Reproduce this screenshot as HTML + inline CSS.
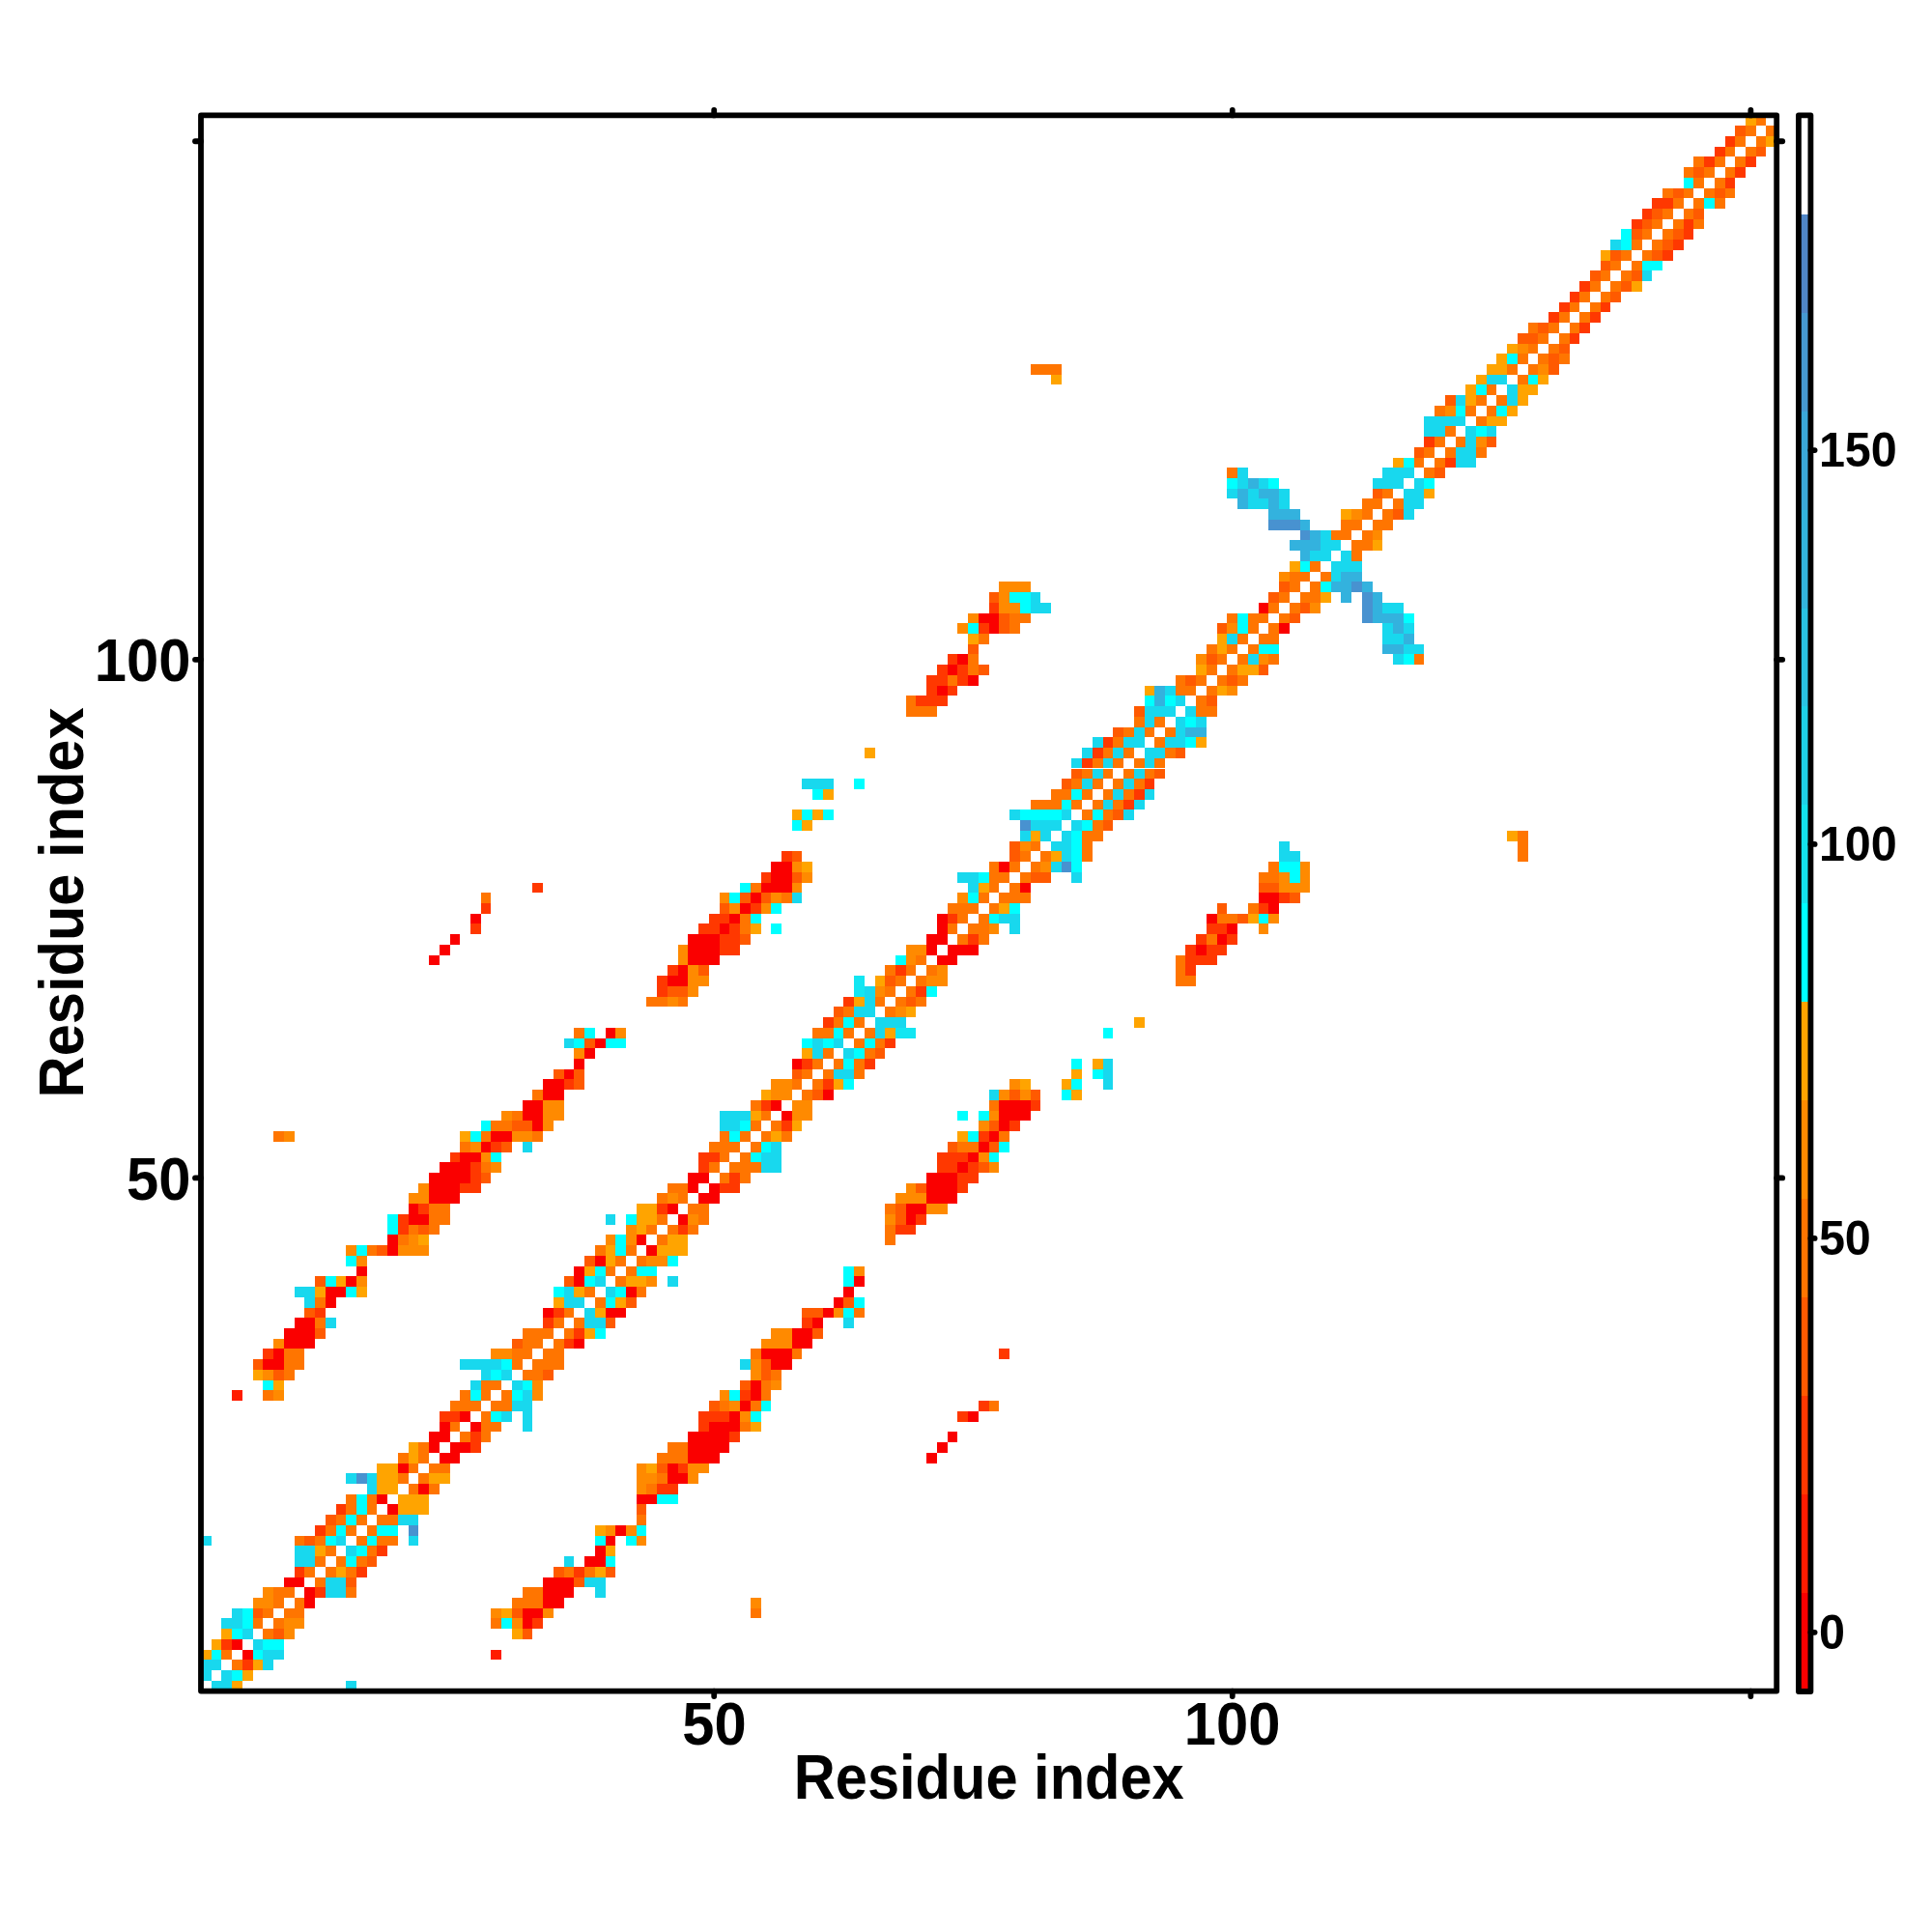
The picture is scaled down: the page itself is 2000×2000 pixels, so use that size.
<!DOCTYPE html>
<html><head><meta charset="utf-8"><style>
html,body{margin:0;padding:0;background:#fff;width:2000px;height:2000px;overflow:hidden}
svg{display:block}
</style></head><body>
<svg width="2000" height="2000" viewBox="0 0 2000 2000">
<rect x="0" y="0" width="2000" height="2000" fill="#fff"/>
<g shape-rendering="crispEdges">
<rect x="218.73" y="1739.87" width="21.46" height="10.73" fill="#18d8ee"/>
<rect x="240.19" y="1739.87" width="10.73" height="10.73" fill="#ffa400"/>
<rect x="358.24" y="1739.87" width="10.73" height="10.73" fill="#18d8ee"/>
<rect x="208.00" y="1729.14" width="10.73" height="10.73" fill="#18d8ee"/>
<rect x="229.46" y="1729.14" width="10.73" height="10.73" fill="#18d8ee"/>
<rect x="240.19" y="1729.14" width="10.73" height="10.73" fill="#00ffff"/>
<rect x="250.93" y="1729.14" width="10.73" height="10.73" fill="#ffa400"/>
<rect x="208.00" y="1718.41" width="21.46" height="10.73" fill="#18d8ee"/>
<rect x="240.19" y="1718.41" width="10.73" height="10.73" fill="#ff7500"/>
<rect x="250.93" y="1718.41" width="10.73" height="10.73" fill="#ff3800"/>
<rect x="261.66" y="1718.41" width="10.73" height="10.73" fill="#ffa400"/>
<rect x="272.39" y="1718.41" width="10.73" height="10.73" fill="#18d8ee"/>
<rect x="208.00" y="1707.67" width="10.73" height="10.73" fill="#ffa400"/>
<rect x="218.73" y="1707.67" width="10.73" height="10.73" fill="#00ffff"/>
<rect x="229.46" y="1707.67" width="10.73" height="10.73" fill="#ff7500"/>
<rect x="250.93" y="1707.67" width="10.73" height="10.73" fill="#fa0000"/>
<rect x="261.66" y="1707.67" width="10.73" height="10.73" fill="#00ffff"/>
<rect x="272.39" y="1707.67" width="21.46" height="10.73" fill="#18d8ee"/>
<rect x="508.48" y="1707.67" width="10.73" height="10.73" fill="#ff1c00"/>
<rect x="218.73" y="1696.94" width="10.73" height="10.73" fill="#ffa400"/>
<rect x="229.46" y="1696.94" width="10.73" height="10.73" fill="#ff3800"/>
<rect x="240.19" y="1696.94" width="10.73" height="10.73" fill="#fa0000"/>
<rect x="261.66" y="1696.94" width="10.73" height="10.73" fill="#18d8ee"/>
<rect x="272.39" y="1696.94" width="21.46" height="10.73" fill="#00ffff"/>
<rect x="229.46" y="1686.21" width="10.73" height="10.73" fill="#ffa400"/>
<rect x="240.19" y="1686.21" width="10.73" height="10.73" fill="#00ffff"/>
<rect x="250.93" y="1686.21" width="10.73" height="10.73" fill="#18d8ee"/>
<rect x="272.39" y="1686.21" width="10.73" height="10.73" fill="#ff7500"/>
<rect x="283.12" y="1686.21" width="10.73" height="10.73" fill="#ff5a00"/>
<rect x="293.85" y="1686.21" width="10.73" height="10.73" fill="#ff8a00"/>
<rect x="529.94" y="1686.21" width="10.73" height="10.73" fill="#ffa400"/>
<rect x="540.68" y="1686.21" width="10.73" height="10.73" fill="#ff5a00"/>
<rect x="229.46" y="1675.48" width="21.46" height="10.73" fill="#18d8ee"/>
<rect x="250.93" y="1675.48" width="10.73" height="10.73" fill="#00ffff"/>
<rect x="261.66" y="1675.48" width="10.73" height="10.73" fill="#ff7500"/>
<rect x="283.12" y="1675.48" width="10.73" height="10.73" fill="#ff7500"/>
<rect x="293.85" y="1675.48" width="21.46" height="10.73" fill="#ff8a00"/>
<rect x="508.48" y="1675.48" width="10.73" height="10.73" fill="#ff7500"/>
<rect x="519.21" y="1675.48" width="10.73" height="10.73" fill="#00ffff"/>
<rect x="529.94" y="1675.48" width="10.73" height="10.73" fill="#ff8a00"/>
<rect x="540.68" y="1675.48" width="10.73" height="10.73" fill="#fa0000"/>
<rect x="551.41" y="1675.48" width="10.73" height="10.73" fill="#ff3800"/>
<rect x="240.19" y="1664.75" width="10.73" height="10.73" fill="#18d8ee"/>
<rect x="250.93" y="1664.75" width="10.73" height="10.73" fill="#00ffff"/>
<rect x="261.66" y="1664.75" width="10.73" height="10.73" fill="#ff5a00"/>
<rect x="272.39" y="1664.75" width="10.73" height="10.73" fill="#ff7500"/>
<rect x="293.85" y="1664.75" width="21.46" height="10.73" fill="#ff7500"/>
<rect x="508.48" y="1664.75" width="10.73" height="10.73" fill="#ff8a00"/>
<rect x="519.21" y="1664.75" width="10.73" height="10.73" fill="#ffa400"/>
<rect x="529.94" y="1664.75" width="10.73" height="10.73" fill="#ff5a00"/>
<rect x="540.68" y="1664.75" width="21.46" height="10.73" fill="#fa0000"/>
<rect x="562.14" y="1664.75" width="10.73" height="10.73" fill="#ff8a00"/>
<rect x="776.77" y="1664.75" width="10.73" height="10.73" fill="#ff7500"/>
<rect x="261.66" y="1654.02" width="21.46" height="10.73" fill="#ff8a00"/>
<rect x="283.12" y="1654.02" width="10.73" height="10.73" fill="#ff7500"/>
<rect x="304.58" y="1654.02" width="10.73" height="10.73" fill="#ff7500"/>
<rect x="315.31" y="1654.02" width="10.73" height="10.73" fill="#fa0000"/>
<rect x="529.94" y="1654.02" width="32.19" height="10.73" fill="#ff7500"/>
<rect x="562.14" y="1654.02" width="21.46" height="10.73" fill="#fa0000"/>
<rect x="776.77" y="1654.02" width="10.73" height="10.73" fill="#ff8a00"/>
<rect x="272.39" y="1643.28" width="10.73" height="10.73" fill="#ff8a00"/>
<rect x="283.12" y="1643.28" width="21.46" height="10.73" fill="#ff7500"/>
<rect x="315.31" y="1643.28" width="10.73" height="10.73" fill="#fa0000"/>
<rect x="326.05" y="1643.28" width="10.73" height="10.73" fill="#ff3800"/>
<rect x="336.78" y="1643.28" width="21.46" height="10.73" fill="#18d8ee"/>
<rect x="358.24" y="1643.28" width="10.73" height="10.73" fill="#ff7500"/>
<rect x="540.68" y="1643.28" width="21.46" height="10.73" fill="#ff7500"/>
<rect x="562.14" y="1643.28" width="32.19" height="10.73" fill="#fa0000"/>
<rect x="615.80" y="1643.28" width="10.73" height="10.73" fill="#18d8ee"/>
<rect x="293.85" y="1632.55" width="21.46" height="10.73" fill="#fa0000"/>
<rect x="326.05" y="1632.55" width="10.73" height="10.73" fill="#ff7500"/>
<rect x="336.78" y="1632.55" width="21.46" height="10.73" fill="#18d8ee"/>
<rect x="358.24" y="1632.55" width="10.73" height="10.73" fill="#ff5a00"/>
<rect x="562.14" y="1632.55" width="32.19" height="10.73" fill="#fa0000"/>
<rect x="594.33" y="1632.55" width="10.73" height="10.73" fill="#ff5a00"/>
<rect x="605.07" y="1632.55" width="21.46" height="10.73" fill="#18d8ee"/>
<rect x="304.58" y="1621.82" width="10.73" height="10.73" fill="#ff3800"/>
<rect x="315.31" y="1621.82" width="10.73" height="10.73" fill="#ff7500"/>
<rect x="336.78" y="1621.82" width="10.73" height="10.73" fill="#ff7500"/>
<rect x="347.51" y="1621.82" width="10.73" height="10.73" fill="#ffa400"/>
<rect x="358.24" y="1621.82" width="10.73" height="10.73" fill="#ff7500"/>
<rect x="368.97" y="1621.82" width="10.73" height="10.73" fill="#ff3800"/>
<rect x="572.87" y="1621.82" width="10.73" height="10.73" fill="#ff5a00"/>
<rect x="583.60" y="1621.82" width="10.73" height="10.73" fill="#ff7500"/>
<rect x="594.33" y="1621.82" width="10.73" height="10.73" fill="#ff3800"/>
<rect x="605.07" y="1621.82" width="10.73" height="10.73" fill="#ff7500"/>
<rect x="615.80" y="1621.82" width="10.73" height="10.73" fill="#ffa400"/>
<rect x="626.53" y="1621.82" width="10.73" height="10.73" fill="#ff5a00"/>
<rect x="304.58" y="1611.09" width="21.46" height="10.73" fill="#18d8ee"/>
<rect x="326.05" y="1611.09" width="10.73" height="10.73" fill="#ff7500"/>
<rect x="347.51" y="1611.09" width="10.73" height="10.73" fill="#ff7500"/>
<rect x="358.24" y="1611.09" width="10.73" height="10.73" fill="#00ffff"/>
<rect x="368.97" y="1611.09" width="10.73" height="10.73" fill="#ff7500"/>
<rect x="379.70" y="1611.09" width="10.73" height="10.73" fill="#ff5a00"/>
<rect x="583.60" y="1611.09" width="10.73" height="10.73" fill="#18d8ee"/>
<rect x="605.07" y="1611.09" width="21.46" height="10.73" fill="#fa0000"/>
<rect x="626.53" y="1611.09" width="10.73" height="10.73" fill="#00ffff"/>
<rect x="304.58" y="1600.36" width="21.46" height="10.73" fill="#18d8ee"/>
<rect x="326.05" y="1600.36" width="10.73" height="10.73" fill="#ffa400"/>
<rect x="336.78" y="1600.36" width="10.73" height="10.73" fill="#ff7500"/>
<rect x="358.24" y="1600.36" width="10.73" height="10.73" fill="#18d8ee"/>
<rect x="368.97" y="1600.36" width="10.73" height="10.73" fill="#00ffff"/>
<rect x="379.70" y="1600.36" width="10.73" height="10.73" fill="#ff7500"/>
<rect x="390.44" y="1600.36" width="10.73" height="10.73" fill="#ff3800"/>
<rect x="615.80" y="1600.36" width="10.73" height="10.73" fill="#fa0000"/>
<rect x="626.53" y="1600.36" width="10.73" height="10.73" fill="#ffa400"/>
<rect x="208.00" y="1589.63" width="10.73" height="10.73" fill="#18d8ee"/>
<rect x="304.58" y="1589.63" width="10.73" height="10.73" fill="#ff7500"/>
<rect x="315.31" y="1589.63" width="10.73" height="10.73" fill="#ff5a00"/>
<rect x="326.05" y="1589.63" width="10.73" height="10.73" fill="#ff7500"/>
<rect x="336.78" y="1589.63" width="10.73" height="10.73" fill="#00ffff"/>
<rect x="347.51" y="1589.63" width="10.73" height="10.73" fill="#18d8ee"/>
<rect x="368.97" y="1589.63" width="10.73" height="10.73" fill="#ff7500"/>
<rect x="379.70" y="1589.63" width="10.73" height="10.73" fill="#00ffff"/>
<rect x="390.44" y="1589.63" width="21.46" height="10.73" fill="#ff7500"/>
<rect x="422.63" y="1589.63" width="10.73" height="10.73" fill="#18d8ee"/>
<rect x="615.80" y="1589.63" width="10.73" height="10.73" fill="#00ffff"/>
<rect x="626.53" y="1589.63" width="10.73" height="10.73" fill="#fa0000"/>
<rect x="647.99" y="1589.63" width="10.73" height="10.73" fill="#00ffff"/>
<rect x="658.72" y="1589.63" width="10.73" height="10.73" fill="#ff8a00"/>
<rect x="326.05" y="1578.90" width="10.73" height="10.73" fill="#ff3800"/>
<rect x="336.78" y="1578.90" width="10.73" height="10.73" fill="#ff7500"/>
<rect x="347.51" y="1578.90" width="10.73" height="10.73" fill="#00ffff"/>
<rect x="358.24" y="1578.90" width="10.73" height="10.73" fill="#ff7500"/>
<rect x="379.70" y="1578.90" width="10.73" height="10.73" fill="#ff7500"/>
<rect x="390.44" y="1578.90" width="21.46" height="10.73" fill="#00ffff"/>
<rect x="422.63" y="1578.90" width="10.73" height="10.73" fill="#4892d0"/>
<rect x="615.80" y="1578.90" width="10.73" height="10.73" fill="#ffa400"/>
<rect x="626.53" y="1578.90" width="10.73" height="10.73" fill="#ff8a00"/>
<rect x="637.26" y="1578.90" width="10.73" height="10.73" fill="#fa0000"/>
<rect x="647.99" y="1578.90" width="10.73" height="10.73" fill="#ff8a00"/>
<rect x="658.72" y="1578.90" width="10.73" height="10.73" fill="#00ffff"/>
<rect x="336.78" y="1568.16" width="10.73" height="10.73" fill="#ff5a00"/>
<rect x="347.51" y="1568.16" width="10.73" height="10.73" fill="#ff7500"/>
<rect x="358.24" y="1568.16" width="10.73" height="10.73" fill="#00ffff"/>
<rect x="368.97" y="1568.16" width="10.73" height="10.73" fill="#ff7500"/>
<rect x="390.44" y="1568.16" width="21.46" height="10.73" fill="#ff7500"/>
<rect x="411.90" y="1568.16" width="21.46" height="10.73" fill="#18d8ee"/>
<rect x="658.72" y="1568.16" width="10.73" height="10.73" fill="#ff7500"/>
<rect x="347.51" y="1557.43" width="10.73" height="10.73" fill="#ff3800"/>
<rect x="358.24" y="1557.43" width="10.73" height="10.73" fill="#ff7500"/>
<rect x="368.97" y="1557.43" width="10.73" height="10.73" fill="#00ffff"/>
<rect x="379.70" y="1557.43" width="10.73" height="10.73" fill="#ff7500"/>
<rect x="401.17" y="1557.43" width="10.73" height="10.73" fill="#fa0000"/>
<rect x="411.90" y="1557.43" width="32.19" height="10.73" fill="#ffa400"/>
<rect x="658.72" y="1557.43" width="10.73" height="10.73" fill="#ff5a00"/>
<rect x="358.24" y="1546.70" width="10.73" height="10.73" fill="#ff7500"/>
<rect x="368.97" y="1546.70" width="10.73" height="10.73" fill="#00ffff"/>
<rect x="379.70" y="1546.70" width="10.73" height="10.73" fill="#ff7500"/>
<rect x="390.44" y="1546.70" width="10.73" height="10.73" fill="#fa0000"/>
<rect x="411.90" y="1546.70" width="32.19" height="10.73" fill="#ffa400"/>
<rect x="658.72" y="1546.70" width="21.46" height="10.73" fill="#fa0000"/>
<rect x="680.19" y="1546.70" width="21.46" height="10.73" fill="#00ffff"/>
<rect x="379.70" y="1535.97" width="10.73" height="10.73" fill="#18d8ee"/>
<rect x="390.44" y="1535.97" width="21.46" height="10.73" fill="#ffa400"/>
<rect x="422.63" y="1535.97" width="10.73" height="10.73" fill="#ff7500"/>
<rect x="433.36" y="1535.97" width="10.73" height="10.73" fill="#fa0000"/>
<rect x="444.09" y="1535.97" width="10.73" height="10.73" fill="#ff7500"/>
<rect x="658.72" y="1535.97" width="10.73" height="10.73" fill="#ff8a00"/>
<rect x="669.45" y="1535.97" width="10.73" height="10.73" fill="#ff7500"/>
<rect x="680.19" y="1535.97" width="21.46" height="10.73" fill="#ff3800"/>
<rect x="358.24" y="1525.24" width="10.73" height="10.73" fill="#18d8ee"/>
<rect x="368.97" y="1525.24" width="10.73" height="10.73" fill="#4892d0"/>
<rect x="379.70" y="1525.24" width="10.73" height="10.73" fill="#18d8ee"/>
<rect x="390.44" y="1525.24" width="21.46" height="10.73" fill="#ffa400"/>
<rect x="411.90" y="1525.24" width="10.73" height="10.73" fill="#ff7500"/>
<rect x="433.36" y="1525.24" width="10.73" height="10.73" fill="#ff7500"/>
<rect x="444.09" y="1525.24" width="21.46" height="10.73" fill="#ffa400"/>
<rect x="658.72" y="1525.24" width="21.46" height="10.73" fill="#ff8a00"/>
<rect x="680.19" y="1525.24" width="10.73" height="10.73" fill="#ff7500"/>
<rect x="690.92" y="1525.24" width="21.46" height="10.73" fill="#fa0000"/>
<rect x="712.38" y="1525.24" width="10.73" height="10.73" fill="#ff8a00"/>
<rect x="390.44" y="1514.51" width="21.46" height="10.73" fill="#ffa400"/>
<rect x="411.90" y="1514.51" width="10.73" height="10.73" fill="#fa0000"/>
<rect x="422.63" y="1514.51" width="10.73" height="10.73" fill="#ff7500"/>
<rect x="444.09" y="1514.51" width="21.46" height="10.73" fill="#ff7500"/>
<rect x="658.72" y="1514.51" width="10.73" height="10.73" fill="#ff8a00"/>
<rect x="669.45" y="1514.51" width="10.73" height="10.73" fill="#ffa400"/>
<rect x="680.19" y="1514.51" width="10.73" height="10.73" fill="#ff5a00"/>
<rect x="690.92" y="1514.51" width="10.73" height="10.73" fill="#fa0000"/>
<rect x="701.65" y="1514.51" width="10.73" height="10.73" fill="#ff3800"/>
<rect x="712.38" y="1514.51" width="21.46" height="10.73" fill="#ff8a00"/>
<rect x="411.90" y="1503.78" width="10.73" height="10.73" fill="#ff7500"/>
<rect x="422.63" y="1503.78" width="10.73" height="10.73" fill="#ffa400"/>
<rect x="433.36" y="1503.78" width="10.73" height="10.73" fill="#ff7500"/>
<rect x="454.82" y="1503.78" width="21.46" height="10.73" fill="#fa0000"/>
<rect x="680.19" y="1503.78" width="32.19" height="10.73" fill="#ff7500"/>
<rect x="712.38" y="1503.78" width="32.19" height="10.73" fill="#fa0000"/>
<rect x="959.21" y="1503.78" width="10.73" height="10.73" fill="#fa0000"/>
<rect x="422.63" y="1493.04" width="10.73" height="10.73" fill="#ffa400"/>
<rect x="433.36" y="1493.04" width="10.73" height="10.73" fill="#ff7500"/>
<rect x="444.09" y="1493.04" width="10.73" height="10.73" fill="#fa0000"/>
<rect x="465.56" y="1493.04" width="21.46" height="10.73" fill="#fa0000"/>
<rect x="487.02" y="1493.04" width="10.73" height="10.73" fill="#ff3800"/>
<rect x="690.92" y="1493.04" width="21.46" height="10.73" fill="#ff7500"/>
<rect x="712.38" y="1493.04" width="42.93" height="10.73" fill="#fa0000"/>
<rect x="969.94" y="1493.04" width="10.73" height="10.73" fill="#fa0000"/>
<rect x="444.09" y="1482.31" width="21.46" height="10.73" fill="#fa0000"/>
<rect x="476.29" y="1482.31" width="10.73" height="10.73" fill="#ff7500"/>
<rect x="487.02" y="1482.31" width="10.73" height="10.73" fill="#ff3800"/>
<rect x="497.75" y="1482.31" width="10.73" height="10.73" fill="#ff7500"/>
<rect x="712.38" y="1482.31" width="42.93" height="10.73" fill="#fa0000"/>
<rect x="755.31" y="1482.31" width="10.73" height="10.73" fill="#ff3800"/>
<rect x="980.67" y="1482.31" width="10.73" height="10.73" fill="#fa0000"/>
<rect x="454.82" y="1471.58" width="10.73" height="10.73" fill="#fa0000"/>
<rect x="465.56" y="1471.58" width="10.73" height="10.73" fill="#ff7500"/>
<rect x="487.02" y="1471.58" width="10.73" height="10.73" fill="#fa0000"/>
<rect x="497.75" y="1471.58" width="21.46" height="10.73" fill="#ff7500"/>
<rect x="540.68" y="1471.58" width="10.73" height="10.73" fill="#18d8ee"/>
<rect x="723.11" y="1471.58" width="10.73" height="10.73" fill="#ff3800"/>
<rect x="733.84" y="1471.58" width="32.19" height="10.73" fill="#fa0000"/>
<rect x="766.04" y="1471.58" width="10.73" height="10.73" fill="#ff7500"/>
<rect x="776.77" y="1471.58" width="10.73" height="10.73" fill="#ffa400"/>
<rect x="454.82" y="1460.85" width="21.46" height="10.73" fill="#ff3800"/>
<rect x="476.29" y="1460.85" width="10.73" height="10.73" fill="#fa0000"/>
<rect x="497.75" y="1460.85" width="10.73" height="10.73" fill="#ff7500"/>
<rect x="508.48" y="1460.85" width="10.73" height="10.73" fill="#00ffff"/>
<rect x="519.21" y="1460.85" width="10.73" height="10.73" fill="#18d8ee"/>
<rect x="540.68" y="1460.85" width="10.73" height="10.73" fill="#18d8ee"/>
<rect x="723.11" y="1460.85" width="32.19" height="10.73" fill="#ff3800"/>
<rect x="755.31" y="1460.85" width="10.73" height="10.73" fill="#fa0000"/>
<rect x="766.04" y="1460.85" width="10.73" height="10.73" fill="#ff8a00"/>
<rect x="776.77" y="1460.85" width="10.73" height="10.73" fill="#00ffff"/>
<rect x="991.40" y="1460.85" width="10.73" height="10.73" fill="#ff3800"/>
<rect x="1002.13" y="1460.85" width="10.73" height="10.73" fill="#fa0000"/>
<rect x="465.56" y="1450.12" width="32.19" height="10.73" fill="#ff7500"/>
<rect x="508.48" y="1450.12" width="21.46" height="10.73" fill="#ff7500"/>
<rect x="529.94" y="1450.12" width="21.46" height="10.73" fill="#18d8ee"/>
<rect x="733.84" y="1450.12" width="10.73" height="10.73" fill="#ff5a00"/>
<rect x="744.58" y="1450.12" width="10.73" height="10.73" fill="#ff7500"/>
<rect x="755.31" y="1450.12" width="10.73" height="10.73" fill="#ff8a00"/>
<rect x="766.04" y="1450.12" width="10.73" height="10.73" fill="#fa0000"/>
<rect x="776.77" y="1450.12" width="10.73" height="10.73" fill="#ff7500"/>
<rect x="787.50" y="1450.12" width="10.73" height="10.73" fill="#00ffff"/>
<rect x="1012.86" y="1450.12" width="10.73" height="10.73" fill="#ff3800"/>
<rect x="1023.59" y="1450.12" width="10.73" height="10.73" fill="#ff7500"/>
<rect x="240.19" y="1439.39" width="10.73" height="10.73" fill="#ff1c00"/>
<rect x="272.39" y="1439.39" width="10.73" height="10.73" fill="#ff7500"/>
<rect x="283.12" y="1439.39" width="10.73" height="10.73" fill="#ff8a00"/>
<rect x="476.29" y="1439.39" width="10.73" height="10.73" fill="#ff7500"/>
<rect x="487.02" y="1439.39" width="10.73" height="10.73" fill="#00ffff"/>
<rect x="497.75" y="1439.39" width="10.73" height="10.73" fill="#ff7500"/>
<rect x="519.21" y="1439.39" width="10.73" height="10.73" fill="#ff7500"/>
<rect x="529.94" y="1439.39" width="10.73" height="10.73" fill="#00ffff"/>
<rect x="540.68" y="1439.39" width="10.73" height="10.73" fill="#18d8ee"/>
<rect x="551.41" y="1439.39" width="10.73" height="10.73" fill="#ff8a00"/>
<rect x="744.58" y="1439.39" width="10.73" height="10.73" fill="#ff8a00"/>
<rect x="755.31" y="1439.39" width="10.73" height="10.73" fill="#00ffff"/>
<rect x="766.04" y="1439.39" width="10.73" height="10.73" fill="#ff3800"/>
<rect x="776.77" y="1439.39" width="10.73" height="10.73" fill="#fa0000"/>
<rect x="787.50" y="1439.39" width="10.73" height="10.73" fill="#ff7500"/>
<rect x="272.39" y="1428.65" width="10.73" height="10.73" fill="#00ffff"/>
<rect x="283.12" y="1428.65" width="10.73" height="10.73" fill="#ffa400"/>
<rect x="487.02" y="1428.65" width="10.73" height="10.73" fill="#18d8ee"/>
<rect x="497.75" y="1428.65" width="21.46" height="10.73" fill="#ff7500"/>
<rect x="529.94" y="1428.65" width="10.73" height="10.73" fill="#18d8ee"/>
<rect x="540.68" y="1428.65" width="10.73" height="10.73" fill="#00ffff"/>
<rect x="551.41" y="1428.65" width="10.73" height="10.73" fill="#ff8a00"/>
<rect x="766.04" y="1428.65" width="10.73" height="10.73" fill="#ff5a00"/>
<rect x="776.77" y="1428.65" width="10.73" height="10.73" fill="#fa0000"/>
<rect x="787.50" y="1428.65" width="10.73" height="10.73" fill="#ff7500"/>
<rect x="798.23" y="1428.65" width="10.73" height="10.73" fill="#ff8a00"/>
<rect x="261.66" y="1417.92" width="10.73" height="10.73" fill="#ffa400"/>
<rect x="272.39" y="1417.92" width="10.73" height="10.73" fill="#ff8a00"/>
<rect x="283.12" y="1417.92" width="10.73" height="10.73" fill="#ff5a00"/>
<rect x="293.85" y="1417.92" width="10.73" height="10.73" fill="#ff7500"/>
<rect x="497.75" y="1417.92" width="10.73" height="10.73" fill="#18d8ee"/>
<rect x="508.48" y="1417.92" width="10.73" height="10.73" fill="#00ffff"/>
<rect x="519.21" y="1417.92" width="10.73" height="10.73" fill="#18d8ee"/>
<rect x="540.68" y="1417.92" width="21.46" height="10.73" fill="#ff7500"/>
<rect x="562.14" y="1417.92" width="10.73" height="10.73" fill="#ff5a00"/>
<rect x="776.77" y="1417.92" width="10.73" height="10.73" fill="#ff8a00"/>
<rect x="787.50" y="1417.92" width="10.73" height="10.73" fill="#ff5a00"/>
<rect x="798.23" y="1417.92" width="10.73" height="10.73" fill="#ff7500"/>
<rect x="261.66" y="1407.19" width="10.73" height="10.73" fill="#ff5a00"/>
<rect x="272.39" y="1407.19" width="21.46" height="10.73" fill="#fa0000"/>
<rect x="293.85" y="1407.19" width="21.46" height="10.73" fill="#ff7500"/>
<rect x="476.29" y="1407.19" width="42.93" height="10.73" fill="#18d8ee"/>
<rect x="519.21" y="1407.19" width="10.73" height="10.73" fill="#00ffff"/>
<rect x="529.94" y="1407.19" width="10.73" height="10.73" fill="#ff7500"/>
<rect x="551.41" y="1407.19" width="32.19" height="10.73" fill="#ff7500"/>
<rect x="766.04" y="1407.19" width="10.73" height="10.73" fill="#18d8ee"/>
<rect x="776.77" y="1407.19" width="10.73" height="10.73" fill="#ff8a00"/>
<rect x="787.50" y="1407.19" width="10.73" height="10.73" fill="#ff5a00"/>
<rect x="798.23" y="1407.19" width="21.46" height="10.73" fill="#fa0000"/>
<rect x="272.39" y="1396.46" width="10.73" height="10.73" fill="#ff3800"/>
<rect x="283.12" y="1396.46" width="10.73" height="10.73" fill="#fa0000"/>
<rect x="293.85" y="1396.46" width="21.46" height="10.73" fill="#ff7500"/>
<rect x="508.48" y="1396.46" width="21.46" height="10.73" fill="#ff8a00"/>
<rect x="529.94" y="1396.46" width="21.46" height="10.73" fill="#ff7500"/>
<rect x="562.14" y="1396.46" width="21.46" height="10.73" fill="#ff7500"/>
<rect x="776.77" y="1396.46" width="10.73" height="10.73" fill="#ff7500"/>
<rect x="787.50" y="1396.46" width="32.19" height="10.73" fill="#fa0000"/>
<rect x="819.70" y="1396.46" width="10.73" height="10.73" fill="#ff7500"/>
<rect x="1034.33" y="1396.46" width="10.73" height="10.73" fill="#ff3800"/>
<rect x="283.12" y="1385.73" width="10.73" height="10.73" fill="#ff8a00"/>
<rect x="293.85" y="1385.73" width="32.19" height="10.73" fill="#fa0000"/>
<rect x="529.94" y="1385.73" width="10.73" height="10.73" fill="#ff5a00"/>
<rect x="540.68" y="1385.73" width="21.46" height="10.73" fill="#ff7500"/>
<rect x="572.87" y="1385.73" width="10.73" height="10.73" fill="#ff7500"/>
<rect x="583.60" y="1385.73" width="10.73" height="10.73" fill="#ff3800"/>
<rect x="594.33" y="1385.73" width="10.73" height="10.73" fill="#fa0000"/>
<rect x="787.50" y="1385.73" width="32.19" height="10.73" fill="#ff8a00"/>
<rect x="819.70" y="1385.73" width="21.46" height="10.73" fill="#fa0000"/>
<rect x="293.85" y="1375.00" width="32.19" height="10.73" fill="#fa0000"/>
<rect x="326.05" y="1375.00" width="10.73" height="10.73" fill="#ff5a00"/>
<rect x="540.68" y="1375.00" width="32.19" height="10.73" fill="#ff7500"/>
<rect x="583.60" y="1375.00" width="10.73" height="10.73" fill="#ff7500"/>
<rect x="594.33" y="1375.00" width="10.73" height="10.73" fill="#ff3800"/>
<rect x="605.07" y="1375.00" width="10.73" height="10.73" fill="#ffa400"/>
<rect x="615.80" y="1375.00" width="10.73" height="10.73" fill="#00ffff"/>
<rect x="798.23" y="1375.00" width="21.46" height="10.73" fill="#ff8a00"/>
<rect x="819.70" y="1375.00" width="21.46" height="10.73" fill="#fa0000"/>
<rect x="841.16" y="1375.00" width="10.73" height="10.73" fill="#ff5a00"/>
<rect x="304.58" y="1364.27" width="21.46" height="10.73" fill="#fa0000"/>
<rect x="326.05" y="1364.27" width="10.73" height="10.73" fill="#ff7500"/>
<rect x="336.78" y="1364.27" width="10.73" height="10.73" fill="#18d8ee"/>
<rect x="562.14" y="1364.27" width="10.73" height="10.73" fill="#ff3800"/>
<rect x="572.87" y="1364.27" width="10.73" height="10.73" fill="#ff7500"/>
<rect x="594.33" y="1364.27" width="10.73" height="10.73" fill="#ff7500"/>
<rect x="605.07" y="1364.27" width="21.46" height="10.73" fill="#18d8ee"/>
<rect x="626.53" y="1364.27" width="10.73" height="10.73" fill="#ff5a00"/>
<rect x="830.43" y="1364.27" width="10.73" height="10.73" fill="#ff3800"/>
<rect x="841.16" y="1364.27" width="10.73" height="10.73" fill="#fa0000"/>
<rect x="873.35" y="1364.27" width="10.73" height="10.73" fill="#18d8ee"/>
<rect x="315.31" y="1353.53" width="10.73" height="10.73" fill="#ff5a00"/>
<rect x="326.05" y="1353.53" width="10.73" height="10.73" fill="#ff3800"/>
<rect x="562.14" y="1353.53" width="10.73" height="10.73" fill="#fa0000"/>
<rect x="572.87" y="1353.53" width="10.73" height="10.73" fill="#ff3800"/>
<rect x="583.60" y="1353.53" width="10.73" height="10.73" fill="#ff7500"/>
<rect x="605.07" y="1353.53" width="10.73" height="10.73" fill="#18d8ee"/>
<rect x="615.80" y="1353.53" width="10.73" height="10.73" fill="#ffa400"/>
<rect x="626.53" y="1353.53" width="21.46" height="10.73" fill="#fa0000"/>
<rect x="830.43" y="1353.53" width="21.46" height="10.73" fill="#ff5a00"/>
<rect x="851.89" y="1353.53" width="10.73" height="10.73" fill="#fa0000"/>
<rect x="862.62" y="1353.53" width="10.73" height="10.73" fill="#ff8a00"/>
<rect x="873.35" y="1353.53" width="10.73" height="10.73" fill="#00ffff"/>
<rect x="884.08" y="1353.53" width="10.73" height="10.73" fill="#ff7500"/>
<rect x="315.31" y="1342.80" width="10.73" height="10.73" fill="#18d8ee"/>
<rect x="326.05" y="1342.80" width="10.73" height="10.73" fill="#ff7500"/>
<rect x="336.78" y="1342.80" width="10.73" height="10.73" fill="#fa0000"/>
<rect x="572.87" y="1342.80" width="10.73" height="10.73" fill="#ffa400"/>
<rect x="583.60" y="1342.80" width="21.46" height="10.73" fill="#18d8ee"/>
<rect x="615.80" y="1342.80" width="10.73" height="10.73" fill="#ff7500"/>
<rect x="626.53" y="1342.80" width="10.73" height="10.73" fill="#00ffff"/>
<rect x="637.26" y="1342.80" width="10.73" height="10.73" fill="#ffa400"/>
<rect x="647.99" y="1342.80" width="10.73" height="10.73" fill="#ff5a00"/>
<rect x="862.62" y="1342.80" width="10.73" height="10.73" fill="#fa0000"/>
<rect x="873.35" y="1342.80" width="10.73" height="10.73" fill="#ff5a00"/>
<rect x="884.08" y="1342.80" width="10.73" height="10.73" fill="#00ffff"/>
<rect x="304.58" y="1332.07" width="21.46" height="10.73" fill="#18d8ee"/>
<rect x="326.05" y="1332.07" width="10.73" height="10.73" fill="#ffa400"/>
<rect x="336.78" y="1332.07" width="21.46" height="10.73" fill="#fa0000"/>
<rect x="358.24" y="1332.07" width="10.73" height="10.73" fill="#00ffff"/>
<rect x="368.97" y="1332.07" width="10.73" height="10.73" fill="#ffa400"/>
<rect x="572.87" y="1332.07" width="10.73" height="10.73" fill="#00ffff"/>
<rect x="583.60" y="1332.07" width="10.73" height="10.73" fill="#18d8ee"/>
<rect x="594.33" y="1332.07" width="10.73" height="10.73" fill="#ffa400"/>
<rect x="605.07" y="1332.07" width="10.73" height="10.73" fill="#ff7500"/>
<rect x="626.53" y="1332.07" width="10.73" height="10.73" fill="#18d8ee"/>
<rect x="637.26" y="1332.07" width="10.73" height="10.73" fill="#00ffff"/>
<rect x="647.99" y="1332.07" width="10.73" height="10.73" fill="#fa0000"/>
<rect x="658.72" y="1332.07" width="10.73" height="10.73" fill="#ff7500"/>
<rect x="873.35" y="1332.07" width="10.73" height="10.73" fill="#fa0000"/>
<rect x="326.05" y="1321.34" width="10.73" height="10.73" fill="#ff5a00"/>
<rect x="336.78" y="1321.34" width="10.73" height="10.73" fill="#00ffff"/>
<rect x="347.51" y="1321.34" width="10.73" height="10.73" fill="#ffa400"/>
<rect x="358.24" y="1321.34" width="10.73" height="10.73" fill="#fa0000"/>
<rect x="368.97" y="1321.34" width="10.73" height="10.73" fill="#ff8a00"/>
<rect x="583.60" y="1321.34" width="10.73" height="10.73" fill="#ff5a00"/>
<rect x="594.33" y="1321.34" width="10.73" height="10.73" fill="#fa0000"/>
<rect x="605.07" y="1321.34" width="10.73" height="10.73" fill="#00ffff"/>
<rect x="615.80" y="1321.34" width="10.73" height="10.73" fill="#18d8ee"/>
<rect x="637.26" y="1321.34" width="10.73" height="10.73" fill="#ff7500"/>
<rect x="647.99" y="1321.34" width="21.46" height="10.73" fill="#ffa400"/>
<rect x="669.45" y="1321.34" width="10.73" height="10.73" fill="#ff8a00"/>
<rect x="690.92" y="1321.34" width="10.73" height="10.73" fill="#18d8ee"/>
<rect x="873.35" y="1321.34" width="10.73" height="10.73" fill="#00ffff"/>
<rect x="884.08" y="1321.34" width="10.73" height="10.73" fill="#fa0000"/>
<rect x="368.97" y="1310.61" width="10.73" height="10.73" fill="#fa0000"/>
<rect x="594.33" y="1310.61" width="10.73" height="10.73" fill="#fa0000"/>
<rect x="605.07" y="1310.61" width="10.73" height="10.73" fill="#ffa400"/>
<rect x="615.80" y="1310.61" width="10.73" height="10.73" fill="#00ffff"/>
<rect x="626.53" y="1310.61" width="10.73" height="10.73" fill="#ff7500"/>
<rect x="647.99" y="1310.61" width="10.73" height="10.73" fill="#ff7500"/>
<rect x="658.72" y="1310.61" width="21.46" height="10.73" fill="#00ffff"/>
<rect x="873.35" y="1310.61" width="10.73" height="10.73" fill="#00ffff"/>
<rect x="884.08" y="1310.61" width="10.73" height="10.73" fill="#ff8a00"/>
<rect x="358.24" y="1299.88" width="10.73" height="10.73" fill="#00ffff"/>
<rect x="368.97" y="1299.88" width="10.73" height="10.73" fill="#ff8a00"/>
<rect x="605.07" y="1299.88" width="10.73" height="10.73" fill="#ff5a00"/>
<rect x="615.80" y="1299.88" width="10.73" height="10.73" fill="#fa0000"/>
<rect x="626.53" y="1299.88" width="10.73" height="10.73" fill="#ffa400"/>
<rect x="637.26" y="1299.88" width="10.73" height="10.73" fill="#ff7500"/>
<rect x="658.72" y="1299.88" width="10.73" height="10.73" fill="#ff7500"/>
<rect x="669.45" y="1299.88" width="21.46" height="10.73" fill="#ff8a00"/>
<rect x="690.92" y="1299.88" width="10.73" height="10.73" fill="#00ffff"/>
<rect x="358.24" y="1289.15" width="10.73" height="10.73" fill="#ff8a00"/>
<rect x="368.97" y="1289.15" width="10.73" height="10.73" fill="#00ffff"/>
<rect x="379.70" y="1289.15" width="10.73" height="10.73" fill="#ff7500"/>
<rect x="390.44" y="1289.15" width="10.73" height="10.73" fill="#ff5a00"/>
<rect x="401.17" y="1289.15" width="10.73" height="10.73" fill="#fa0000"/>
<rect x="411.90" y="1289.15" width="32.19" height="10.73" fill="#ff8a00"/>
<rect x="615.80" y="1289.15" width="10.73" height="10.73" fill="#ff7500"/>
<rect x="626.53" y="1289.15" width="10.73" height="10.73" fill="#ffa400"/>
<rect x="637.26" y="1289.15" width="10.73" height="10.73" fill="#00ffff"/>
<rect x="647.99" y="1289.15" width="10.73" height="10.73" fill="#ff7500"/>
<rect x="669.45" y="1289.15" width="10.73" height="10.73" fill="#fa0000"/>
<rect x="680.19" y="1289.15" width="32.19" height="10.73" fill="#ffa400"/>
<rect x="401.17" y="1278.41" width="10.73" height="10.73" fill="#fa0000"/>
<rect x="411.90" y="1278.41" width="10.73" height="10.73" fill="#ff7500"/>
<rect x="422.63" y="1278.41" width="10.73" height="10.73" fill="#ff8a00"/>
<rect x="433.36" y="1278.41" width="10.73" height="10.73" fill="#ffa400"/>
<rect x="626.53" y="1278.41" width="10.73" height="10.73" fill="#ff8a00"/>
<rect x="637.26" y="1278.41" width="10.73" height="10.73" fill="#00ffff"/>
<rect x="647.99" y="1278.41" width="10.73" height="10.73" fill="#ff8a00"/>
<rect x="658.72" y="1278.41" width="10.73" height="10.73" fill="#fa0000"/>
<rect x="680.19" y="1278.41" width="10.73" height="10.73" fill="#ff7500"/>
<rect x="690.92" y="1278.41" width="21.46" height="10.73" fill="#ffa400"/>
<rect x="916.28" y="1278.41" width="10.73" height="10.73" fill="#ff7500"/>
<rect x="401.17" y="1267.68" width="10.73" height="10.73" fill="#00ffff"/>
<rect x="411.90" y="1267.68" width="10.73" height="10.73" fill="#ff3800"/>
<rect x="422.63" y="1267.68" width="10.73" height="10.73" fill="#ff7500"/>
<rect x="433.36" y="1267.68" width="10.73" height="10.73" fill="#ff5a00"/>
<rect x="444.09" y="1267.68" width="10.73" height="10.73" fill="#ff7500"/>
<rect x="647.99" y="1267.68" width="10.73" height="10.73" fill="#ff8a00"/>
<rect x="658.72" y="1267.68" width="10.73" height="10.73" fill="#ffa400"/>
<rect x="669.45" y="1267.68" width="10.73" height="10.73" fill="#ff7500"/>
<rect x="690.92" y="1267.68" width="10.73" height="10.73" fill="#ff7500"/>
<rect x="701.65" y="1267.68" width="10.73" height="10.73" fill="#ff3800"/>
<rect x="712.38" y="1267.68" width="10.73" height="10.73" fill="#ff7500"/>
<rect x="916.28" y="1267.68" width="10.73" height="10.73" fill="#ff7500"/>
<rect x="927.01" y="1267.68" width="21.46" height="10.73" fill="#ff3800"/>
<rect x="401.17" y="1256.95" width="10.73" height="10.73" fill="#00ffff"/>
<rect x="411.90" y="1256.95" width="10.73" height="10.73" fill="#ff3800"/>
<rect x="422.63" y="1256.95" width="21.46" height="10.73" fill="#fa0000"/>
<rect x="444.09" y="1256.95" width="21.46" height="10.73" fill="#ff7500"/>
<rect x="626.53" y="1256.95" width="10.73" height="10.73" fill="#18d8ee"/>
<rect x="647.99" y="1256.95" width="10.73" height="10.73" fill="#00ffff"/>
<rect x="658.72" y="1256.95" width="21.46" height="10.73" fill="#ffa400"/>
<rect x="680.19" y="1256.95" width="10.73" height="10.73" fill="#ff7500"/>
<rect x="701.65" y="1256.95" width="10.73" height="10.73" fill="#fa0000"/>
<rect x="712.38" y="1256.95" width="10.73" height="10.73" fill="#ff8a00"/>
<rect x="723.11" y="1256.95" width="10.73" height="10.73" fill="#ff7500"/>
<rect x="916.28" y="1256.95" width="10.73" height="10.73" fill="#ff8a00"/>
<rect x="927.01" y="1256.95" width="10.73" height="10.73" fill="#ff5a00"/>
<rect x="937.74" y="1256.95" width="10.73" height="10.73" fill="#fa0000"/>
<rect x="948.47" y="1256.95" width="10.73" height="10.73" fill="#ff3800"/>
<rect x="422.63" y="1246.22" width="10.73" height="10.73" fill="#fa0000"/>
<rect x="433.36" y="1246.22" width="10.73" height="10.73" fill="#ff3800"/>
<rect x="444.09" y="1246.22" width="21.46" height="10.73" fill="#ff7500"/>
<rect x="658.72" y="1246.22" width="21.46" height="10.73" fill="#ffa400"/>
<rect x="680.19" y="1246.22" width="10.73" height="10.73" fill="#ff3800"/>
<rect x="690.92" y="1246.22" width="10.73" height="10.73" fill="#fa0000"/>
<rect x="712.38" y="1246.22" width="21.46" height="10.73" fill="#ff7500"/>
<rect x="916.28" y="1246.22" width="10.73" height="10.73" fill="#ff7500"/>
<rect x="927.01" y="1246.22" width="10.73" height="10.73" fill="#ff5a00"/>
<rect x="937.74" y="1246.22" width="21.46" height="10.73" fill="#fa0000"/>
<rect x="959.21" y="1246.22" width="21.46" height="10.73" fill="#ff8a00"/>
<rect x="422.63" y="1235.49" width="21.46" height="10.73" fill="#ff8a00"/>
<rect x="444.09" y="1235.49" width="32.19" height="10.73" fill="#fa0000"/>
<rect x="680.19" y="1235.49" width="10.73" height="10.73" fill="#ff7500"/>
<rect x="690.92" y="1235.49" width="10.73" height="10.73" fill="#ff8a00"/>
<rect x="701.65" y="1235.49" width="10.73" height="10.73" fill="#ff7500"/>
<rect x="723.11" y="1235.49" width="21.46" height="10.73" fill="#fa0000"/>
<rect x="927.01" y="1235.49" width="32.19" height="10.73" fill="#ff8a00"/>
<rect x="959.21" y="1235.49" width="32.19" height="10.73" fill="#fa0000"/>
<rect x="433.36" y="1224.76" width="10.73" height="10.73" fill="#ff8a00"/>
<rect x="444.09" y="1224.76" width="32.19" height="10.73" fill="#fa0000"/>
<rect x="476.29" y="1224.76" width="21.46" height="10.73" fill="#ff3800"/>
<rect x="690.92" y="1224.76" width="21.46" height="10.73" fill="#ff7500"/>
<rect x="712.38" y="1224.76" width="10.73" height="10.73" fill="#fa0000"/>
<rect x="733.84" y="1224.76" width="10.73" height="10.73" fill="#fa0000"/>
<rect x="744.58" y="1224.76" width="21.46" height="10.73" fill="#ff3800"/>
<rect x="937.74" y="1224.76" width="10.73" height="10.73" fill="#ff8a00"/>
<rect x="948.47" y="1224.76" width="10.73" height="10.73" fill="#ff5a00"/>
<rect x="959.21" y="1224.76" width="32.19" height="10.73" fill="#fa0000"/>
<rect x="991.40" y="1224.76" width="10.73" height="10.73" fill="#ff3800"/>
<rect x="444.09" y="1214.02" width="42.93" height="10.73" fill="#fa0000"/>
<rect x="487.02" y="1214.02" width="10.73" height="10.73" fill="#ff3800"/>
<rect x="497.75" y="1214.02" width="10.73" height="10.73" fill="#ff5a00"/>
<rect x="712.38" y="1214.02" width="21.46" height="10.73" fill="#fa0000"/>
<rect x="744.58" y="1214.02" width="10.73" height="10.73" fill="#ff7500"/>
<rect x="755.31" y="1214.02" width="10.73" height="10.73" fill="#ff3800"/>
<rect x="766.04" y="1214.02" width="10.73" height="10.73" fill="#ff7500"/>
<rect x="959.21" y="1214.02" width="32.19" height="10.73" fill="#fa0000"/>
<rect x="991.40" y="1214.02" width="21.46" height="10.73" fill="#ff3800"/>
<rect x="454.82" y="1203.29" width="32.19" height="10.73" fill="#fa0000"/>
<rect x="487.02" y="1203.29" width="10.73" height="10.73" fill="#ff3800"/>
<rect x="497.75" y="1203.29" width="10.73" height="10.73" fill="#ff7500"/>
<rect x="508.48" y="1203.29" width="10.73" height="10.73" fill="#ff8a00"/>
<rect x="723.11" y="1203.29" width="10.73" height="10.73" fill="#ff3800"/>
<rect x="733.84" y="1203.29" width="10.73" height="10.73" fill="#ff7500"/>
<rect x="755.31" y="1203.29" width="32.19" height="10.73" fill="#ff7500"/>
<rect x="787.50" y="1203.29" width="21.46" height="10.73" fill="#18d8ee"/>
<rect x="969.94" y="1203.29" width="21.46" height="10.73" fill="#ff3800"/>
<rect x="991.40" y="1203.29" width="10.73" height="10.73" fill="#fa0000"/>
<rect x="1002.13" y="1203.29" width="10.73" height="10.73" fill="#ff3800"/>
<rect x="1012.86" y="1203.29" width="10.73" height="10.73" fill="#ff5a00"/>
<rect x="1023.59" y="1203.29" width="10.73" height="10.73" fill="#ff8a00"/>
<rect x="465.56" y="1192.56" width="10.73" height="10.73" fill="#ff3800"/>
<rect x="476.29" y="1192.56" width="21.46" height="10.73" fill="#fa0000"/>
<rect x="497.75" y="1192.56" width="10.73" height="10.73" fill="#ff8a00"/>
<rect x="508.48" y="1192.56" width="10.73" height="10.73" fill="#00ffff"/>
<rect x="723.11" y="1192.56" width="21.46" height="10.73" fill="#ff3800"/>
<rect x="744.58" y="1192.56" width="10.73" height="10.73" fill="#ff7500"/>
<rect x="766.04" y="1192.56" width="10.73" height="10.73" fill="#ff7500"/>
<rect x="776.77" y="1192.56" width="10.73" height="10.73" fill="#00ffff"/>
<rect x="787.50" y="1192.56" width="21.46" height="10.73" fill="#18d8ee"/>
<rect x="969.94" y="1192.56" width="32.19" height="10.73" fill="#ff3800"/>
<rect x="1002.13" y="1192.56" width="10.73" height="10.73" fill="#fa0000"/>
<rect x="1012.86" y="1192.56" width="10.73" height="10.73" fill="#ff8a00"/>
<rect x="1023.59" y="1192.56" width="10.73" height="10.73" fill="#00ffff"/>
<rect x="476.29" y="1181.83" width="10.73" height="10.73" fill="#ff7500"/>
<rect x="487.02" y="1181.83" width="10.73" height="10.73" fill="#ff8a00"/>
<rect x="497.75" y="1181.83" width="10.73" height="10.73" fill="#fa0000"/>
<rect x="508.48" y="1181.83" width="10.73" height="10.73" fill="#ff3800"/>
<rect x="519.21" y="1181.83" width="10.73" height="10.73" fill="#ff5a00"/>
<rect x="540.68" y="1181.83" width="10.73" height="10.73" fill="#18d8ee"/>
<rect x="733.84" y="1181.83" width="32.19" height="10.73" fill="#ff7500"/>
<rect x="776.77" y="1181.83" width="10.73" height="10.73" fill="#ff7500"/>
<rect x="787.50" y="1181.83" width="10.73" height="10.73" fill="#00ffff"/>
<rect x="798.23" y="1181.83" width="10.73" height="10.73" fill="#18d8ee"/>
<rect x="980.67" y="1181.83" width="10.73" height="10.73" fill="#ff5a00"/>
<rect x="991.40" y="1181.83" width="21.46" height="10.73" fill="#ff7500"/>
<rect x="1012.86" y="1181.83" width="10.73" height="10.73" fill="#fa0000"/>
<rect x="1023.59" y="1181.83" width="10.73" height="10.73" fill="#ff5a00"/>
<rect x="1034.33" y="1181.83" width="10.73" height="10.73" fill="#00ffff"/>
<rect x="283.12" y="1171.10" width="10.73" height="10.73" fill="#ff7500"/>
<rect x="293.85" y="1171.10" width="10.73" height="10.73" fill="#ff8a00"/>
<rect x="476.29" y="1171.10" width="10.73" height="10.73" fill="#ffa400"/>
<rect x="487.02" y="1171.10" width="10.73" height="10.73" fill="#00ffff"/>
<rect x="497.75" y="1171.10" width="10.73" height="10.73" fill="#ff7500"/>
<rect x="508.48" y="1171.10" width="21.46" height="10.73" fill="#fa0000"/>
<rect x="529.94" y="1171.10" width="21.46" height="10.73" fill="#ff8a00"/>
<rect x="551.41" y="1171.10" width="10.73" height="10.73" fill="#ff7500"/>
<rect x="744.58" y="1171.10" width="10.73" height="10.73" fill="#ff7500"/>
<rect x="755.31" y="1171.10" width="10.73" height="10.73" fill="#00ffff"/>
<rect x="766.04" y="1171.10" width="10.73" height="10.73" fill="#ff7500"/>
<rect x="787.50" y="1171.10" width="10.73" height="10.73" fill="#ff7500"/>
<rect x="798.23" y="1171.10" width="10.73" height="10.73" fill="#ffa400"/>
<rect x="808.96" y="1171.10" width="10.73" height="10.73" fill="#ff7500"/>
<rect x="991.40" y="1171.10" width="10.73" height="10.73" fill="#ffa400"/>
<rect x="1002.13" y="1171.10" width="10.73" height="10.73" fill="#00ffff"/>
<rect x="1012.86" y="1171.10" width="10.73" height="10.73" fill="#ff3800"/>
<rect x="1023.59" y="1171.10" width="10.73" height="10.73" fill="#fa0000"/>
<rect x="1034.33" y="1171.10" width="10.73" height="10.73" fill="#ff7500"/>
<rect x="497.75" y="1160.37" width="10.73" height="10.73" fill="#00ffff"/>
<rect x="508.48" y="1160.37" width="21.46" height="10.73" fill="#ff7500"/>
<rect x="529.94" y="1160.37" width="21.46" height="10.73" fill="#ff5a00"/>
<rect x="551.41" y="1160.37" width="10.73" height="10.73" fill="#fa0000"/>
<rect x="562.14" y="1160.37" width="10.73" height="10.73" fill="#ff8a00"/>
<rect x="744.58" y="1160.37" width="21.46" height="10.73" fill="#18d8ee"/>
<rect x="766.04" y="1160.37" width="10.73" height="10.73" fill="#00ffff"/>
<rect x="776.77" y="1160.37" width="10.73" height="10.73" fill="#ff7500"/>
<rect x="798.23" y="1160.37" width="10.73" height="10.73" fill="#ff7500"/>
<rect x="808.96" y="1160.37" width="10.73" height="10.73" fill="#ff3800"/>
<rect x="819.70" y="1160.37" width="10.73" height="10.73" fill="#ffa400"/>
<rect x="1012.86" y="1160.37" width="10.73" height="10.73" fill="#ff8a00"/>
<rect x="1023.59" y="1160.37" width="10.73" height="10.73" fill="#ff5a00"/>
<rect x="1034.33" y="1160.37" width="10.73" height="10.73" fill="#fa0000"/>
<rect x="1045.06" y="1160.37" width="10.73" height="10.73" fill="#ff3800"/>
<rect x="519.21" y="1149.64" width="10.73" height="10.73" fill="#ff8a00"/>
<rect x="529.94" y="1149.64" width="10.73" height="10.73" fill="#ff7500"/>
<rect x="540.68" y="1149.64" width="21.46" height="10.73" fill="#fa0000"/>
<rect x="562.14" y="1149.64" width="21.46" height="10.73" fill="#ff8a00"/>
<rect x="744.58" y="1149.64" width="32.19" height="10.73" fill="#18d8ee"/>
<rect x="776.77" y="1149.64" width="10.73" height="10.73" fill="#ffa400"/>
<rect x="787.50" y="1149.64" width="10.73" height="10.73" fill="#ff7500"/>
<rect x="808.96" y="1149.64" width="10.73" height="10.73" fill="#fa0000"/>
<rect x="819.70" y="1149.64" width="21.46" height="10.73" fill="#ff8a00"/>
<rect x="991.40" y="1149.64" width="10.73" height="10.73" fill="#00ffff"/>
<rect x="1012.86" y="1149.64" width="10.73" height="10.73" fill="#00ffff"/>
<rect x="1023.59" y="1149.64" width="10.73" height="10.73" fill="#ff8a00"/>
<rect x="1034.33" y="1149.64" width="32.19" height="10.73" fill="#fa0000"/>
<rect x="540.68" y="1138.90" width="21.46" height="10.73" fill="#fa0000"/>
<rect x="562.14" y="1138.90" width="21.46" height="10.73" fill="#ff8a00"/>
<rect x="776.77" y="1138.90" width="10.73" height="10.73" fill="#ff7500"/>
<rect x="787.50" y="1138.90" width="10.73" height="10.73" fill="#ff3800"/>
<rect x="798.23" y="1138.90" width="10.73" height="10.73" fill="#fa0000"/>
<rect x="819.70" y="1138.90" width="21.46" height="10.73" fill="#ff8a00"/>
<rect x="1023.59" y="1138.90" width="10.73" height="10.73" fill="#ff7500"/>
<rect x="1034.33" y="1138.90" width="32.19" height="10.73" fill="#fa0000"/>
<rect x="1066.52" y="1138.90" width="10.73" height="10.73" fill="#ff3800"/>
<rect x="551.41" y="1128.17" width="10.73" height="10.73" fill="#ff7500"/>
<rect x="562.14" y="1128.17" width="21.46" height="10.73" fill="#fa0000"/>
<rect x="787.50" y="1128.17" width="10.73" height="10.73" fill="#ffa400"/>
<rect x="798.23" y="1128.17" width="21.46" height="10.73" fill="#ff8a00"/>
<rect x="830.43" y="1128.17" width="10.73" height="10.73" fill="#ff7500"/>
<rect x="841.16" y="1128.17" width="10.73" height="10.73" fill="#ff5a00"/>
<rect x="851.89" y="1128.17" width="10.73" height="10.73" fill="#fa0000"/>
<rect x="1023.59" y="1128.17" width="10.73" height="10.73" fill="#18d8ee"/>
<rect x="1034.33" y="1128.17" width="10.73" height="10.73" fill="#ff8a00"/>
<rect x="1045.06" y="1128.17" width="10.73" height="10.73" fill="#ff5a00"/>
<rect x="1055.79" y="1128.17" width="10.73" height="10.73" fill="#ff8a00"/>
<rect x="1066.52" y="1128.17" width="10.73" height="10.73" fill="#ff5a00"/>
<rect x="1098.71" y="1128.17" width="10.73" height="10.73" fill="#00ffff"/>
<rect x="1109.45" y="1128.17" width="10.73" height="10.73" fill="#ffa400"/>
<rect x="562.14" y="1117.44" width="21.46" height="10.73" fill="#fa0000"/>
<rect x="583.60" y="1117.44" width="10.73" height="10.73" fill="#ff3800"/>
<rect x="594.33" y="1117.44" width="10.73" height="10.73" fill="#ff5a00"/>
<rect x="798.23" y="1117.44" width="21.46" height="10.73" fill="#ff8a00"/>
<rect x="819.70" y="1117.44" width="10.73" height="10.73" fill="#ff7500"/>
<rect x="841.16" y="1117.44" width="10.73" height="10.73" fill="#ff7500"/>
<rect x="851.89" y="1117.44" width="10.73" height="10.73" fill="#ff3800"/>
<rect x="862.62" y="1117.44" width="10.73" height="10.73" fill="#ffa400"/>
<rect x="873.35" y="1117.44" width="10.73" height="10.73" fill="#00ffff"/>
<rect x="1045.06" y="1117.44" width="10.73" height="10.73" fill="#ff8a00"/>
<rect x="1055.79" y="1117.44" width="10.73" height="10.73" fill="#ffa400"/>
<rect x="1098.71" y="1117.44" width="10.73" height="10.73" fill="#ffa400"/>
<rect x="1109.45" y="1117.44" width="10.73" height="10.73" fill="#00ffff"/>
<rect x="1141.64" y="1117.44" width="10.73" height="10.73" fill="#18d8ee"/>
<rect x="572.87" y="1106.71" width="10.73" height="10.73" fill="#ff5a00"/>
<rect x="583.60" y="1106.71" width="10.73" height="10.73" fill="#fa0000"/>
<rect x="594.33" y="1106.71" width="10.73" height="10.73" fill="#ff5a00"/>
<rect x="819.70" y="1106.71" width="10.73" height="10.73" fill="#ff5a00"/>
<rect x="830.43" y="1106.71" width="10.73" height="10.73" fill="#ff7500"/>
<rect x="851.89" y="1106.71" width="10.73" height="10.73" fill="#ff7500"/>
<rect x="862.62" y="1106.71" width="21.46" height="10.73" fill="#18d8ee"/>
<rect x="884.08" y="1106.71" width="10.73" height="10.73" fill="#ff7500"/>
<rect x="1109.45" y="1106.71" width="10.73" height="10.73" fill="#ffa400"/>
<rect x="1130.91" y="1106.71" width="10.73" height="10.73" fill="#00ffff"/>
<rect x="1141.64" y="1106.71" width="10.73" height="10.73" fill="#18d8ee"/>
<rect x="594.33" y="1095.98" width="10.73" height="10.73" fill="#fa0000"/>
<rect x="819.70" y="1095.98" width="10.73" height="10.73" fill="#fa0000"/>
<rect x="830.43" y="1095.98" width="10.73" height="10.73" fill="#ff3800"/>
<rect x="841.16" y="1095.98" width="10.73" height="10.73" fill="#ff7500"/>
<rect x="862.62" y="1095.98" width="10.73" height="10.73" fill="#ff7500"/>
<rect x="873.35" y="1095.98" width="10.73" height="10.73" fill="#00ffff"/>
<rect x="884.08" y="1095.98" width="10.73" height="10.73" fill="#ff7500"/>
<rect x="894.82" y="1095.98" width="10.73" height="10.73" fill="#ff3800"/>
<rect x="1109.45" y="1095.98" width="10.73" height="10.73" fill="#00ffff"/>
<rect x="1130.91" y="1095.98" width="10.73" height="10.73" fill="#ffa400"/>
<rect x="1141.64" y="1095.98" width="10.73" height="10.73" fill="#18d8ee"/>
<rect x="594.33" y="1085.25" width="10.73" height="10.73" fill="#ff8a00"/>
<rect x="605.07" y="1085.25" width="10.73" height="10.73" fill="#fa0000"/>
<rect x="830.43" y="1085.25" width="10.73" height="10.73" fill="#ffa400"/>
<rect x="841.16" y="1085.25" width="10.73" height="10.73" fill="#18d8ee"/>
<rect x="851.89" y="1085.25" width="10.73" height="10.73" fill="#ff7500"/>
<rect x="873.35" y="1085.25" width="10.73" height="10.73" fill="#18d8ee"/>
<rect x="884.08" y="1085.25" width="10.73" height="10.73" fill="#00ffff"/>
<rect x="894.82" y="1085.25" width="10.73" height="10.73" fill="#ff7500"/>
<rect x="905.55" y="1085.25" width="10.73" height="10.73" fill="#ff5a00"/>
<rect x="583.60" y="1074.52" width="10.73" height="10.73" fill="#18d8ee"/>
<rect x="594.33" y="1074.52" width="10.73" height="10.73" fill="#00ffff"/>
<rect x="605.07" y="1074.52" width="10.73" height="10.73" fill="#ff5a00"/>
<rect x="615.80" y="1074.52" width="10.73" height="10.73" fill="#fa0000"/>
<rect x="626.53" y="1074.52" width="21.46" height="10.73" fill="#00ffff"/>
<rect x="830.43" y="1074.52" width="10.73" height="10.73" fill="#00ffff"/>
<rect x="841.16" y="1074.52" width="10.73" height="10.73" fill="#18d8ee"/>
<rect x="851.89" y="1074.52" width="10.73" height="10.73" fill="#00ffff"/>
<rect x="862.62" y="1074.52" width="10.73" height="10.73" fill="#18d8ee"/>
<rect x="884.08" y="1074.52" width="10.73" height="10.73" fill="#ff7500"/>
<rect x="894.82" y="1074.52" width="10.73" height="10.73" fill="#00ffff"/>
<rect x="905.55" y="1074.52" width="10.73" height="10.73" fill="#ff7500"/>
<rect x="916.28" y="1074.52" width="10.73" height="10.73" fill="#ff3800"/>
<rect x="594.33" y="1063.78" width="10.73" height="10.73" fill="#ff7500"/>
<rect x="605.07" y="1063.78" width="10.73" height="10.73" fill="#00ffff"/>
<rect x="626.53" y="1063.78" width="10.73" height="10.73" fill="#fa0000"/>
<rect x="637.26" y="1063.78" width="10.73" height="10.73" fill="#ff8a00"/>
<rect x="841.16" y="1063.78" width="21.46" height="10.73" fill="#ff7500"/>
<rect x="862.62" y="1063.78" width="10.73" height="10.73" fill="#00ffff"/>
<rect x="873.35" y="1063.78" width="10.73" height="10.73" fill="#ff7500"/>
<rect x="894.82" y="1063.78" width="10.73" height="10.73" fill="#ff7500"/>
<rect x="905.55" y="1063.78" width="10.73" height="10.73" fill="#18d8ee"/>
<rect x="916.28" y="1063.78" width="10.73" height="10.73" fill="#ffa400"/>
<rect x="927.01" y="1063.78" width="21.46" height="10.73" fill="#12e6f2"/>
<rect x="1141.64" y="1063.78" width="10.73" height="10.73" fill="#00ffff"/>
<rect x="851.89" y="1053.05" width="10.73" height="10.73" fill="#ff3800"/>
<rect x="862.62" y="1053.05" width="10.73" height="10.73" fill="#ff7500"/>
<rect x="873.35" y="1053.05" width="10.73" height="10.73" fill="#00ffff"/>
<rect x="884.08" y="1053.05" width="10.73" height="10.73" fill="#ff7500"/>
<rect x="905.55" y="1053.05" width="32.19" height="10.73" fill="#18d8ee"/>
<rect x="1173.84" y="1053.05" width="10.73" height="10.73" fill="#ffa400"/>
<rect x="862.62" y="1042.32" width="10.73" height="10.73" fill="#ff5a00"/>
<rect x="873.35" y="1042.32" width="10.73" height="10.73" fill="#ff7500"/>
<rect x="884.08" y="1042.32" width="21.46" height="10.73" fill="#18d8ee"/>
<rect x="916.28" y="1042.32" width="10.73" height="10.73" fill="#ff7500"/>
<rect x="927.01" y="1042.32" width="10.73" height="10.73" fill="#ff8a00"/>
<rect x="937.74" y="1042.32" width="10.73" height="10.73" fill="#ffa400"/>
<rect x="669.45" y="1031.59" width="21.46" height="10.73" fill="#ff7500"/>
<rect x="690.92" y="1031.59" width="10.73" height="10.73" fill="#ff8a00"/>
<rect x="701.65" y="1031.59" width="10.73" height="10.73" fill="#ff7500"/>
<rect x="873.35" y="1031.59" width="10.73" height="10.73" fill="#ff3800"/>
<rect x="884.08" y="1031.59" width="10.73" height="10.73" fill="#ffa400"/>
<rect x="894.82" y="1031.59" width="10.73" height="10.73" fill="#18d8ee"/>
<rect x="905.55" y="1031.59" width="10.73" height="10.73" fill="#ff7500"/>
<rect x="927.01" y="1031.59" width="10.73" height="10.73" fill="#ff7500"/>
<rect x="937.74" y="1031.59" width="10.73" height="10.73" fill="#ff5a00"/>
<rect x="948.47" y="1031.59" width="10.73" height="10.73" fill="#ff7500"/>
<rect x="680.19" y="1020.86" width="10.73" height="10.73" fill="#ff3800"/>
<rect x="690.92" y="1020.86" width="21.46" height="10.73" fill="#ff5a00"/>
<rect x="712.38" y="1020.86" width="10.73" height="10.73" fill="#ff8a00"/>
<rect x="884.08" y="1020.86" width="10.73" height="10.73" fill="#12e6f2"/>
<rect x="894.82" y="1020.86" width="10.73" height="10.73" fill="#18d8ee"/>
<rect x="905.55" y="1020.86" width="10.73" height="10.73" fill="#ff8a00"/>
<rect x="916.28" y="1020.86" width="10.73" height="10.73" fill="#ff7500"/>
<rect x="937.74" y="1020.86" width="10.73" height="10.73" fill="#ff7500"/>
<rect x="948.47" y="1020.86" width="10.73" height="10.73" fill="#ff3800"/>
<rect x="959.21" y="1020.86" width="10.73" height="10.73" fill="#00ffff"/>
<rect x="680.19" y="1010.13" width="10.73" height="10.73" fill="#ff3800"/>
<rect x="690.92" y="1010.13" width="21.46" height="10.73" fill="#fa0000"/>
<rect x="712.38" y="1010.13" width="21.46" height="10.73" fill="#ff8a00"/>
<rect x="884.08" y="1010.13" width="10.73" height="10.73" fill="#12e6f2"/>
<rect x="905.55" y="1010.13" width="10.73" height="10.73" fill="#ffa400"/>
<rect x="916.28" y="1010.13" width="10.73" height="10.73" fill="#ff5a00"/>
<rect x="927.01" y="1010.13" width="10.73" height="10.73" fill="#ff7500"/>
<rect x="948.47" y="1010.13" width="10.73" height="10.73" fill="#ff7500"/>
<rect x="959.21" y="1010.13" width="21.46" height="10.73" fill="#ff8a00"/>
<rect x="1216.76" y="1010.13" width="21.46" height="10.73" fill="#ff7500"/>
<rect x="690.92" y="999.39" width="10.73" height="10.73" fill="#ff3800"/>
<rect x="701.65" y="999.39" width="10.73" height="10.73" fill="#fa0000"/>
<rect x="712.38" y="999.39" width="10.73" height="10.73" fill="#ff8a00"/>
<rect x="723.11" y="999.39" width="10.73" height="10.73" fill="#ff5a00"/>
<rect x="916.28" y="999.39" width="10.73" height="10.73" fill="#ff7500"/>
<rect x="927.01" y="999.39" width="10.73" height="10.73" fill="#ff3800"/>
<rect x="937.74" y="999.39" width="10.73" height="10.73" fill="#ff7500"/>
<rect x="959.21" y="999.39" width="10.73" height="10.73" fill="#ff7500"/>
<rect x="969.94" y="999.39" width="10.73" height="10.73" fill="#ff8a00"/>
<rect x="1216.76" y="999.39" width="10.73" height="10.73" fill="#ff7500"/>
<rect x="1227.49" y="999.39" width="10.73" height="10.73" fill="#ff3800"/>
<rect x="444.09" y="988.66" width="10.73" height="10.73" fill="#fa0000"/>
<rect x="701.65" y="988.66" width="10.73" height="10.73" fill="#ff8a00"/>
<rect x="712.38" y="988.66" width="32.19" height="10.73" fill="#fa0000"/>
<rect x="927.01" y="988.66" width="10.73" height="10.73" fill="#00ffff"/>
<rect x="937.74" y="988.66" width="10.73" height="10.73" fill="#ff8a00"/>
<rect x="948.47" y="988.66" width="10.73" height="10.73" fill="#ff7500"/>
<rect x="969.94" y="988.66" width="21.46" height="10.73" fill="#fa0000"/>
<rect x="1216.76" y="988.66" width="10.73" height="10.73" fill="#ff7500"/>
<rect x="1227.49" y="988.66" width="32.19" height="10.73" fill="#ff3800"/>
<rect x="454.82" y="977.93" width="10.73" height="10.73" fill="#fa0000"/>
<rect x="701.65" y="977.93" width="10.73" height="10.73" fill="#ff8a00"/>
<rect x="712.38" y="977.93" width="32.19" height="10.73" fill="#fa0000"/>
<rect x="744.58" y="977.93" width="21.46" height="10.73" fill="#ff3800"/>
<rect x="937.74" y="977.93" width="21.46" height="10.73" fill="#ff8a00"/>
<rect x="959.21" y="977.93" width="10.73" height="10.73" fill="#fa0000"/>
<rect x="980.67" y="977.93" width="32.19" height="10.73" fill="#fa0000"/>
<rect x="1227.49" y="977.93" width="10.73" height="10.73" fill="#ff3800"/>
<rect x="1238.22" y="977.93" width="10.73" height="10.73" fill="#fa0000"/>
<rect x="1248.96" y="977.93" width="21.46" height="10.73" fill="#ff3800"/>
<rect x="465.56" y="967.20" width="10.73" height="10.73" fill="#fa0000"/>
<rect x="712.38" y="967.20" width="32.19" height="10.73" fill="#fa0000"/>
<rect x="744.58" y="967.20" width="21.46" height="10.73" fill="#ff3800"/>
<rect x="766.04" y="967.20" width="10.73" height="10.73" fill="#ff5a00"/>
<rect x="959.21" y="967.20" width="21.46" height="10.73" fill="#fa0000"/>
<rect x="991.40" y="967.20" width="10.73" height="10.73" fill="#ff7500"/>
<rect x="1002.13" y="967.20" width="10.73" height="10.73" fill="#ff3800"/>
<rect x="1012.86" y="967.20" width="10.73" height="10.73" fill="#ff7500"/>
<rect x="1238.22" y="967.20" width="10.73" height="10.73" fill="#ff3800"/>
<rect x="1248.96" y="967.20" width="10.73" height="10.73" fill="#ff7500"/>
<rect x="1259.69" y="967.20" width="10.73" height="10.73" fill="#fa0000"/>
<rect x="1270.42" y="967.20" width="10.73" height="10.73" fill="#ff3800"/>
<rect x="487.02" y="956.47" width="10.73" height="10.73" fill="#ff3800"/>
<rect x="723.11" y="956.47" width="21.46" height="10.73" fill="#ff3800"/>
<rect x="744.58" y="956.47" width="10.73" height="10.73" fill="#fa0000"/>
<rect x="755.31" y="956.47" width="10.73" height="10.73" fill="#ff3800"/>
<rect x="766.04" y="956.47" width="10.73" height="10.73" fill="#ff7500"/>
<rect x="776.77" y="956.47" width="10.73" height="10.73" fill="#ffa400"/>
<rect x="798.23" y="956.47" width="10.73" height="10.73" fill="#00ffff"/>
<rect x="969.94" y="956.47" width="10.73" height="10.73" fill="#fa0000"/>
<rect x="980.67" y="956.47" width="10.73" height="10.73" fill="#ff7500"/>
<rect x="1002.13" y="956.47" width="21.46" height="10.73" fill="#ff7500"/>
<rect x="1023.59" y="956.47" width="10.73" height="10.73" fill="#ff8a00"/>
<rect x="1045.06" y="956.47" width="10.73" height="10.73" fill="#18d8ee"/>
<rect x="1248.96" y="956.47" width="21.46" height="10.73" fill="#ff3800"/>
<rect x="1270.42" y="956.47" width="10.73" height="10.73" fill="#fa0000"/>
<rect x="1302.61" y="956.47" width="10.73" height="10.73" fill="#ff8a00"/>
<rect x="487.02" y="945.74" width="10.73" height="10.73" fill="#fa0000"/>
<rect x="733.84" y="945.74" width="21.46" height="10.73" fill="#ff3800"/>
<rect x="755.31" y="945.74" width="10.73" height="10.73" fill="#fa0000"/>
<rect x="766.04" y="945.74" width="10.73" height="10.73" fill="#ff7500"/>
<rect x="776.77" y="945.74" width="10.73" height="10.73" fill="#00ffff"/>
<rect x="969.94" y="945.74" width="10.73" height="10.73" fill="#fa0000"/>
<rect x="980.67" y="945.74" width="10.73" height="10.73" fill="#ff3800"/>
<rect x="991.40" y="945.74" width="10.73" height="10.73" fill="#ff7500"/>
<rect x="1012.86" y="945.74" width="10.73" height="10.73" fill="#ff7500"/>
<rect x="1023.59" y="945.74" width="10.73" height="10.73" fill="#00ffff"/>
<rect x="1034.33" y="945.74" width="21.46" height="10.73" fill="#18d8ee"/>
<rect x="1248.96" y="945.74" width="10.73" height="10.73" fill="#fa0000"/>
<rect x="1259.69" y="945.74" width="21.46" height="10.73" fill="#ff7500"/>
<rect x="1281.15" y="945.74" width="10.73" height="10.73" fill="#ff5a00"/>
<rect x="1291.88" y="945.74" width="10.73" height="10.73" fill="#ffa400"/>
<rect x="1302.61" y="945.74" width="10.73" height="10.73" fill="#00ffff"/>
<rect x="1313.34" y="945.74" width="10.73" height="10.73" fill="#ff8a00"/>
<rect x="497.75" y="935.01" width="10.73" height="10.73" fill="#ff3800"/>
<rect x="744.58" y="935.01" width="10.73" height="10.73" fill="#ff5a00"/>
<rect x="755.31" y="935.01" width="10.73" height="10.73" fill="#ff8a00"/>
<rect x="766.04" y="935.01" width="10.73" height="10.73" fill="#fa0000"/>
<rect x="776.77" y="935.01" width="10.73" height="10.73" fill="#ff3800"/>
<rect x="787.50" y="935.01" width="10.73" height="10.73" fill="#ff8a00"/>
<rect x="798.23" y="935.01" width="10.73" height="10.73" fill="#00ffff"/>
<rect x="980.67" y="935.01" width="32.19" height="10.73" fill="#ff7500"/>
<rect x="1023.59" y="935.01" width="10.73" height="10.73" fill="#ff7500"/>
<rect x="1034.33" y="935.01" width="10.73" height="10.73" fill="#ffa400"/>
<rect x="1045.06" y="935.01" width="10.73" height="10.73" fill="#00ffff"/>
<rect x="1259.69" y="935.01" width="10.73" height="10.73" fill="#ff5a00"/>
<rect x="1291.88" y="935.01" width="10.73" height="10.73" fill="#ff7500"/>
<rect x="1302.61" y="935.01" width="10.73" height="10.73" fill="#ff3800"/>
<rect x="1313.34" y="935.01" width="10.73" height="10.73" fill="#fa0000"/>
<rect x="497.75" y="924.27" width="10.73" height="10.73" fill="#ff7500"/>
<rect x="744.58" y="924.27" width="10.73" height="10.73" fill="#ff8a00"/>
<rect x="755.31" y="924.27" width="10.73" height="10.73" fill="#00ffff"/>
<rect x="766.04" y="924.27" width="10.73" height="10.73" fill="#ff5a00"/>
<rect x="776.77" y="924.27" width="10.73" height="10.73" fill="#fa0000"/>
<rect x="787.50" y="924.27" width="10.73" height="10.73" fill="#ff5a00"/>
<rect x="798.23" y="924.27" width="10.73" height="10.73" fill="#ff8a00"/>
<rect x="808.96" y="924.27" width="10.73" height="10.73" fill="#ff7500"/>
<rect x="819.70" y="924.27" width="10.73" height="10.73" fill="#18d8ee"/>
<rect x="991.40" y="924.27" width="10.73" height="10.73" fill="#ff8a00"/>
<rect x="1002.13" y="924.27" width="10.73" height="10.73" fill="#00ffff"/>
<rect x="1012.86" y="924.27" width="10.73" height="10.73" fill="#ff7500"/>
<rect x="1034.33" y="924.27" width="32.19" height="10.73" fill="#ff7500"/>
<rect x="1302.61" y="924.27" width="21.46" height="10.73" fill="#fa0000"/>
<rect x="1324.08" y="924.27" width="10.73" height="10.73" fill="#ff3800"/>
<rect x="1334.81" y="924.27" width="10.73" height="10.73" fill="#ff5a00"/>
<rect x="551.41" y="913.54" width="10.73" height="10.73" fill="#ff3800"/>
<rect x="766.04" y="913.54" width="10.73" height="10.73" fill="#00ffff"/>
<rect x="776.77" y="913.54" width="10.73" height="10.73" fill="#ff7500"/>
<rect x="787.50" y="913.54" width="32.19" height="10.73" fill="#fa0000"/>
<rect x="819.70" y="913.54" width="10.73" height="10.73" fill="#ff8a00"/>
<rect x="1002.13" y="913.54" width="10.73" height="10.73" fill="#18d8ee"/>
<rect x="1012.86" y="913.54" width="10.73" height="10.73" fill="#ffa400"/>
<rect x="1023.59" y="913.54" width="10.73" height="10.73" fill="#ff7500"/>
<rect x="1045.06" y="913.54" width="10.73" height="10.73" fill="#ff7500"/>
<rect x="1055.79" y="913.54" width="10.73" height="10.73" fill="#fa0000"/>
<rect x="1302.61" y="913.54" width="21.46" height="10.73" fill="#ff5a00"/>
<rect x="1324.08" y="913.54" width="32.19" height="10.73" fill="#ff8a00"/>
<rect x="787.50" y="902.81" width="10.73" height="10.73" fill="#ff3800"/>
<rect x="798.23" y="902.81" width="21.46" height="10.73" fill="#fa0000"/>
<rect x="819.70" y="902.81" width="10.73" height="10.73" fill="#ff5a00"/>
<rect x="830.43" y="902.81" width="10.73" height="10.73" fill="#ff8a00"/>
<rect x="991.40" y="902.81" width="21.46" height="10.73" fill="#18d8ee"/>
<rect x="1012.86" y="902.81" width="10.73" height="10.73" fill="#00ffff"/>
<rect x="1023.59" y="902.81" width="21.46" height="10.73" fill="#ff7500"/>
<rect x="1055.79" y="902.81" width="10.73" height="10.73" fill="#ff7500"/>
<rect x="1066.52" y="902.81" width="21.46" height="10.73" fill="#ff5a00"/>
<rect x="1109.45" y="902.81" width="10.73" height="10.73" fill="#18d8ee"/>
<rect x="1302.61" y="902.81" width="21.46" height="10.73" fill="#ff7500"/>
<rect x="1324.08" y="902.81" width="10.73" height="10.73" fill="#ff8a00"/>
<rect x="1334.81" y="902.81" width="10.73" height="10.73" fill="#00ffff"/>
<rect x="1345.54" y="902.81" width="10.73" height="10.73" fill="#ff8a00"/>
<rect x="798.23" y="892.08" width="21.46" height="10.73" fill="#fa0000"/>
<rect x="819.70" y="892.08" width="10.73" height="10.73" fill="#ff8a00"/>
<rect x="830.43" y="892.08" width="10.73" height="10.73" fill="#ffa400"/>
<rect x="1023.59" y="892.08" width="10.73" height="10.73" fill="#ff7500"/>
<rect x="1034.33" y="892.08" width="10.73" height="10.73" fill="#fa0000"/>
<rect x="1045.06" y="892.08" width="10.73" height="10.73" fill="#ff7500"/>
<rect x="1066.52" y="892.08" width="10.73" height="10.73" fill="#ff7500"/>
<rect x="1077.25" y="892.08" width="10.73" height="10.73" fill="#ff8a00"/>
<rect x="1087.98" y="892.08" width="10.73" height="10.73" fill="#18d8ee"/>
<rect x="1098.71" y="892.08" width="10.73" height="10.73" fill="#4892d0"/>
<rect x="1109.45" y="892.08" width="10.73" height="10.73" fill="#00ffff"/>
<rect x="1313.34" y="892.08" width="10.73" height="10.73" fill="#ff7500"/>
<rect x="1324.08" y="892.08" width="21.46" height="10.73" fill="#00ffff"/>
<rect x="1345.54" y="892.08" width="10.73" height="10.73" fill="#ff8a00"/>
<rect x="808.96" y="881.35" width="10.73" height="10.73" fill="#ff3800"/>
<rect x="819.70" y="881.35" width="10.73" height="10.73" fill="#ff5a00"/>
<rect x="1045.06" y="881.35" width="10.73" height="10.73" fill="#ff5a00"/>
<rect x="1055.79" y="881.35" width="10.73" height="10.73" fill="#ff7500"/>
<rect x="1077.25" y="881.35" width="10.73" height="10.73" fill="#ff7500"/>
<rect x="1087.98" y="881.35" width="10.73" height="10.73" fill="#ffa400"/>
<rect x="1098.71" y="881.35" width="10.73" height="10.73" fill="#18d8ee"/>
<rect x="1109.45" y="881.35" width="10.73" height="10.73" fill="#00ffff"/>
<rect x="1120.18" y="881.35" width="10.73" height="10.73" fill="#ff7500"/>
<rect x="1324.08" y="881.35" width="21.46" height="10.73" fill="#18d8ee"/>
<rect x="1570.90" y="881.35" width="10.73" height="10.73" fill="#ff7500"/>
<rect x="1045.06" y="870.62" width="10.73" height="10.73" fill="#ff5a00"/>
<rect x="1055.79" y="870.62" width="10.73" height="10.73" fill="#ff8a00"/>
<rect x="1066.52" y="870.62" width="10.73" height="10.73" fill="#ff7500"/>
<rect x="1087.98" y="870.62" width="21.46" height="10.73" fill="#18d8ee"/>
<rect x="1109.45" y="870.62" width="10.73" height="10.73" fill="#00ffff"/>
<rect x="1120.18" y="870.62" width="10.73" height="10.73" fill="#ff7500"/>
<rect x="1324.08" y="870.62" width="10.73" height="10.73" fill="#18d8ee"/>
<rect x="1570.90" y="870.62" width="10.73" height="10.73" fill="#ff7500"/>
<rect x="1055.79" y="859.89" width="10.73" height="10.73" fill="#18d8ee"/>
<rect x="1066.52" y="859.89" width="10.73" height="10.73" fill="#ffa400"/>
<rect x="1077.25" y="859.89" width="10.73" height="10.73" fill="#18d8ee"/>
<rect x="1098.71" y="859.89" width="10.73" height="10.73" fill="#18d8ee"/>
<rect x="1109.45" y="859.89" width="10.73" height="10.73" fill="#00ffff"/>
<rect x="1120.18" y="859.89" width="21.46" height="10.73" fill="#ff7500"/>
<rect x="1560.17" y="859.89" width="10.73" height="10.73" fill="#ffa400"/>
<rect x="1570.90" y="859.89" width="10.73" height="10.73" fill="#ff7500"/>
<rect x="819.70" y="849.15" width="10.73" height="10.73" fill="#00ffff"/>
<rect x="830.43" y="849.15" width="10.73" height="10.73" fill="#ffa400"/>
<rect x="1055.79" y="849.15" width="10.73" height="10.73" fill="#4892d0"/>
<rect x="1066.52" y="849.15" width="32.19" height="10.73" fill="#18d8ee"/>
<rect x="1109.45" y="849.15" width="10.73" height="10.73" fill="#18d8ee"/>
<rect x="1120.18" y="849.15" width="10.73" height="10.73" fill="#00ffff"/>
<rect x="1130.91" y="849.15" width="10.73" height="10.73" fill="#ff7500"/>
<rect x="1141.64" y="849.15" width="10.73" height="10.73" fill="#ff5a00"/>
<rect x="819.70" y="838.42" width="10.73" height="10.73" fill="#ffa400"/>
<rect x="830.43" y="838.42" width="10.73" height="10.73" fill="#00ffff"/>
<rect x="841.16" y="838.42" width="10.73" height="10.73" fill="#ffa400"/>
<rect x="851.89" y="838.42" width="10.73" height="10.73" fill="#00ffff"/>
<rect x="1045.06" y="838.42" width="10.73" height="10.73" fill="#18d8ee"/>
<rect x="1055.79" y="838.42" width="42.93" height="10.73" fill="#00ffff"/>
<rect x="1098.71" y="838.42" width="10.73" height="10.73" fill="#18d8ee"/>
<rect x="1120.18" y="838.42" width="10.73" height="10.73" fill="#ff7500"/>
<rect x="1130.91" y="838.42" width="10.73" height="10.73" fill="#00ffff"/>
<rect x="1141.64" y="838.42" width="10.73" height="10.73" fill="#ff7500"/>
<rect x="1152.37" y="838.42" width="10.73" height="10.73" fill="#ff5a00"/>
<rect x="1163.10" y="838.42" width="10.73" height="10.73" fill="#18d8ee"/>
<rect x="1066.52" y="827.69" width="32.19" height="10.73" fill="#ff7500"/>
<rect x="1098.71" y="827.69" width="10.73" height="10.73" fill="#00ffff"/>
<rect x="1109.45" y="827.69" width="10.73" height="10.73" fill="#ff7500"/>
<rect x="1130.91" y="827.69" width="10.73" height="10.73" fill="#ff7500"/>
<rect x="1141.64" y="827.69" width="10.73" height="10.73" fill="#18d8ee"/>
<rect x="1152.37" y="827.69" width="10.73" height="10.73" fill="#ff7500"/>
<rect x="1163.10" y="827.69" width="10.73" height="10.73" fill="#ff3800"/>
<rect x="1173.84" y="827.69" width="10.73" height="10.73" fill="#18d8ee"/>
<rect x="841.16" y="816.96" width="10.73" height="10.73" fill="#00ffff"/>
<rect x="851.89" y="816.96" width="10.73" height="10.73" fill="#ffa400"/>
<rect x="1087.98" y="816.96" width="21.46" height="10.73" fill="#ff7500"/>
<rect x="1109.45" y="816.96" width="10.73" height="10.73" fill="#00ffff"/>
<rect x="1120.18" y="816.96" width="10.73" height="10.73" fill="#ff7500"/>
<rect x="1141.64" y="816.96" width="10.73" height="10.73" fill="#ff7500"/>
<rect x="1152.37" y="816.96" width="10.73" height="10.73" fill="#18d8ee"/>
<rect x="1163.10" y="816.96" width="10.73" height="10.73" fill="#ff7500"/>
<rect x="1173.84" y="816.96" width="10.73" height="10.73" fill="#ff3800"/>
<rect x="1184.57" y="816.96" width="10.73" height="10.73" fill="#18d8ee"/>
<rect x="830.43" y="806.23" width="32.19" height="10.73" fill="#18d8ee"/>
<rect x="884.08" y="806.23" width="10.73" height="10.73" fill="#00ffff"/>
<rect x="1098.71" y="806.23" width="10.73" height="10.73" fill="#ff5a00"/>
<rect x="1109.45" y="806.23" width="10.73" height="10.73" fill="#ff7500"/>
<rect x="1120.18" y="806.23" width="10.73" height="10.73" fill="#18d8ee"/>
<rect x="1130.91" y="806.23" width="10.73" height="10.73" fill="#ff7500"/>
<rect x="1152.37" y="806.23" width="10.73" height="10.73" fill="#ff7500"/>
<rect x="1163.10" y="806.23" width="10.73" height="10.73" fill="#18d8ee"/>
<rect x="1173.84" y="806.23" width="10.73" height="10.73" fill="#ff7500"/>
<rect x="1184.57" y="806.23" width="10.73" height="10.73" fill="#ff3800"/>
<rect x="1109.45" y="795.50" width="10.73" height="10.73" fill="#ff5a00"/>
<rect x="1120.18" y="795.50" width="10.73" height="10.73" fill="#ff7500"/>
<rect x="1130.91" y="795.50" width="10.73" height="10.73" fill="#18d8ee"/>
<rect x="1141.64" y="795.50" width="10.73" height="10.73" fill="#ff7500"/>
<rect x="1163.10" y="795.50" width="10.73" height="10.73" fill="#ff7500"/>
<rect x="1173.84" y="795.50" width="10.73" height="10.73" fill="#18d8ee"/>
<rect x="1184.57" y="795.50" width="10.73" height="10.73" fill="#ff7500"/>
<rect x="1195.30" y="795.50" width="10.73" height="10.73" fill="#ff5a00"/>
<rect x="1109.45" y="784.76" width="10.73" height="10.73" fill="#18d8ee"/>
<rect x="1120.18" y="784.76" width="10.73" height="10.73" fill="#ff3800"/>
<rect x="1130.91" y="784.76" width="10.73" height="10.73" fill="#ff7500"/>
<rect x="1141.64" y="784.76" width="10.73" height="10.73" fill="#18d8ee"/>
<rect x="1152.37" y="784.76" width="10.73" height="10.73" fill="#ff7500"/>
<rect x="1173.84" y="784.76" width="10.73" height="10.73" fill="#ff7500"/>
<rect x="1184.57" y="784.76" width="10.73" height="10.73" fill="#18d8ee"/>
<rect x="1195.30" y="784.76" width="10.73" height="10.73" fill="#ff7500"/>
<rect x="894.82" y="774.03" width="10.73" height="10.73" fill="#ffa400"/>
<rect x="1120.18" y="774.03" width="10.73" height="10.73" fill="#18d8ee"/>
<rect x="1130.91" y="774.03" width="10.73" height="10.73" fill="#ff3800"/>
<rect x="1141.64" y="774.03" width="10.73" height="10.73" fill="#ff7500"/>
<rect x="1152.37" y="774.03" width="10.73" height="10.73" fill="#18d8ee"/>
<rect x="1163.10" y="774.03" width="10.73" height="10.73" fill="#ff7500"/>
<rect x="1184.57" y="774.03" width="21.46" height="10.73" fill="#18d8ee"/>
<rect x="1206.03" y="774.03" width="10.73" height="10.73" fill="#ff7500"/>
<rect x="1216.76" y="774.03" width="10.73" height="10.73" fill="#ff5a00"/>
<rect x="1130.91" y="763.30" width="10.73" height="10.73" fill="#18d8ee"/>
<rect x="1141.64" y="763.30" width="10.73" height="10.73" fill="#ff3800"/>
<rect x="1152.37" y="763.30" width="10.73" height="10.73" fill="#ff7500"/>
<rect x="1163.10" y="763.30" width="21.46" height="10.73" fill="#18d8ee"/>
<rect x="1195.30" y="763.30" width="10.73" height="10.73" fill="#ff7500"/>
<rect x="1206.03" y="763.30" width="21.46" height="10.73" fill="#18d8ee"/>
<rect x="1227.49" y="763.30" width="10.73" height="10.73" fill="#00ffff"/>
<rect x="1238.22" y="763.30" width="10.73" height="10.73" fill="#ffa400"/>
<rect x="1152.37" y="752.57" width="10.73" height="10.73" fill="#ff5a00"/>
<rect x="1163.10" y="752.57" width="10.73" height="10.73" fill="#ff7500"/>
<rect x="1173.84" y="752.57" width="10.73" height="10.73" fill="#18d8ee"/>
<rect x="1184.57" y="752.57" width="10.73" height="10.73" fill="#ff7500"/>
<rect x="1206.03" y="752.57" width="10.73" height="10.73" fill="#ff7500"/>
<rect x="1216.76" y="752.57" width="10.73" height="10.73" fill="#18d8ee"/>
<rect x="1227.49" y="752.57" width="21.46" height="10.73" fill="#33b2de"/>
<rect x="1173.84" y="741.84" width="10.73" height="10.73" fill="#ff7500"/>
<rect x="1184.57" y="741.84" width="10.73" height="10.73" fill="#18d8ee"/>
<rect x="1195.30" y="741.84" width="10.73" height="10.73" fill="#ff7500"/>
<rect x="1216.76" y="741.84" width="10.73" height="10.73" fill="#18d8ee"/>
<rect x="1227.49" y="741.84" width="10.73" height="10.73" fill="#00ffff"/>
<rect x="1238.22" y="741.84" width="10.73" height="10.73" fill="#18d8ee"/>
<rect x="937.74" y="731.11" width="32.19" height="10.73" fill="#ff7500"/>
<rect x="1173.84" y="731.11" width="10.73" height="10.73" fill="#ff5a00"/>
<rect x="1184.57" y="731.11" width="32.19" height="10.73" fill="#18d8ee"/>
<rect x="1227.49" y="731.11" width="10.73" height="10.73" fill="#18d8ee"/>
<rect x="1238.22" y="731.11" width="21.46" height="10.73" fill="#ff7500"/>
<rect x="937.74" y="720.38" width="10.73" height="10.73" fill="#ff7500"/>
<rect x="948.47" y="720.38" width="32.19" height="10.73" fill="#ff3800"/>
<rect x="1184.57" y="720.38" width="10.73" height="10.73" fill="#00ffff"/>
<rect x="1195.30" y="720.38" width="10.73" height="10.73" fill="#33b2de"/>
<rect x="1206.03" y="720.38" width="10.73" height="10.73" fill="#00ffff"/>
<rect x="1216.76" y="720.38" width="10.73" height="10.73" fill="#18d8ee"/>
<rect x="1238.22" y="720.38" width="10.73" height="10.73" fill="#ff7500"/>
<rect x="1248.96" y="720.38" width="10.73" height="10.73" fill="#ff5a00"/>
<rect x="959.21" y="709.64" width="10.73" height="10.73" fill="#ff3800"/>
<rect x="969.94" y="709.64" width="10.73" height="10.73" fill="#fa0000"/>
<rect x="980.67" y="709.64" width="10.73" height="10.73" fill="#ff3800"/>
<rect x="1184.57" y="709.64" width="10.73" height="10.73" fill="#ffa400"/>
<rect x="1195.30" y="709.64" width="10.73" height="10.73" fill="#33b2de"/>
<rect x="1206.03" y="709.64" width="10.73" height="10.73" fill="#18d8ee"/>
<rect x="1216.76" y="709.64" width="21.46" height="10.73" fill="#ff7500"/>
<rect x="1248.96" y="709.64" width="10.73" height="10.73" fill="#ff7500"/>
<rect x="1259.69" y="709.64" width="10.73" height="10.73" fill="#ffa400"/>
<rect x="1270.42" y="709.64" width="10.73" height="10.73" fill="#ff8a00"/>
<rect x="959.21" y="698.91" width="21.46" height="10.73" fill="#ff3800"/>
<rect x="980.67" y="698.91" width="10.73" height="10.73" fill="#ff7500"/>
<rect x="991.40" y="698.91" width="10.73" height="10.73" fill="#ff3800"/>
<rect x="1002.13" y="698.91" width="10.73" height="10.73" fill="#fa0000"/>
<rect x="1216.76" y="698.91" width="10.73" height="10.73" fill="#ff7500"/>
<rect x="1227.49" y="698.91" width="10.73" height="10.73" fill="#ff5a00"/>
<rect x="1238.22" y="698.91" width="10.73" height="10.73" fill="#ff7500"/>
<rect x="1259.69" y="698.91" width="10.73" height="10.73" fill="#ff7500"/>
<rect x="1270.42" y="698.91" width="10.73" height="10.73" fill="#ff5a00"/>
<rect x="1281.15" y="698.91" width="10.73" height="10.73" fill="#ff7500"/>
<rect x="969.94" y="688.18" width="10.73" height="10.73" fill="#ff3800"/>
<rect x="980.67" y="688.18" width="10.73" height="10.73" fill="#fa0000"/>
<rect x="991.40" y="688.18" width="10.73" height="10.73" fill="#ff3800"/>
<rect x="1002.13" y="688.18" width="10.73" height="10.73" fill="#ff7500"/>
<rect x="1012.86" y="688.18" width="10.73" height="10.73" fill="#ff5a00"/>
<rect x="1238.22" y="688.18" width="10.73" height="10.73" fill="#ffa400"/>
<rect x="1248.96" y="688.18" width="10.73" height="10.73" fill="#ff7500"/>
<rect x="1270.42" y="688.18" width="10.73" height="10.73" fill="#ff7500"/>
<rect x="1281.15" y="688.18" width="21.46" height="10.73" fill="#ffa400"/>
<rect x="1302.61" y="688.18" width="10.73" height="10.73" fill="#ff5a00"/>
<rect x="980.67" y="677.45" width="10.73" height="10.73" fill="#ff3800"/>
<rect x="991.40" y="677.45" width="10.73" height="10.73" fill="#fa0000"/>
<rect x="1002.13" y="677.45" width="10.73" height="10.73" fill="#ff7500"/>
<rect x="1238.22" y="677.45" width="10.73" height="10.73" fill="#ff8a00"/>
<rect x="1248.96" y="677.45" width="10.73" height="10.73" fill="#ff5a00"/>
<rect x="1259.69" y="677.45" width="10.73" height="10.73" fill="#ff7500"/>
<rect x="1281.15" y="677.45" width="10.73" height="10.73" fill="#ff7500"/>
<rect x="1291.88" y="677.45" width="10.73" height="10.73" fill="#18d8ee"/>
<rect x="1302.61" y="677.45" width="10.73" height="10.73" fill="#ff8a00"/>
<rect x="1313.34" y="677.45" width="10.73" height="10.73" fill="#ff7500"/>
<rect x="1442.12" y="677.45" width="10.73" height="10.73" fill="#18d8ee"/>
<rect x="1452.85" y="677.45" width="10.73" height="10.73" fill="#00ffff"/>
<rect x="1463.59" y="677.45" width="10.73" height="10.73" fill="#ff7500"/>
<rect x="1002.13" y="666.72" width="10.73" height="10.73" fill="#ff5a00"/>
<rect x="1248.96" y="666.72" width="10.73" height="10.73" fill="#ff7500"/>
<rect x="1259.69" y="666.72" width="10.73" height="10.73" fill="#ffa400"/>
<rect x="1270.42" y="666.72" width="10.73" height="10.73" fill="#ff7500"/>
<rect x="1291.88" y="666.72" width="10.73" height="10.73" fill="#ff7500"/>
<rect x="1302.61" y="666.72" width="21.46" height="10.73" fill="#00ffff"/>
<rect x="1431.39" y="666.72" width="21.46" height="10.73" fill="#33b2de"/>
<rect x="1452.85" y="666.72" width="21.46" height="10.73" fill="#18d8ee"/>
<rect x="1002.13" y="655.99" width="10.73" height="10.73" fill="#ffa400"/>
<rect x="1012.86" y="655.99" width="10.73" height="10.73" fill="#ff7500"/>
<rect x="1259.69" y="655.99" width="10.73" height="10.73" fill="#ffa400"/>
<rect x="1270.42" y="655.99" width="10.73" height="10.73" fill="#18d8ee"/>
<rect x="1281.15" y="655.99" width="10.73" height="10.73" fill="#ff7500"/>
<rect x="1302.61" y="655.99" width="21.46" height="10.73" fill="#ff7500"/>
<rect x="1431.39" y="655.99" width="21.46" height="10.73" fill="#18d8ee"/>
<rect x="1452.85" y="655.99" width="10.73" height="10.73" fill="#33b2de"/>
<rect x="991.40" y="645.26" width="10.73" height="10.73" fill="#ff8a00"/>
<rect x="1002.13" y="645.26" width="10.73" height="10.73" fill="#00ffff"/>
<rect x="1012.86" y="645.26" width="10.73" height="10.73" fill="#ff3800"/>
<rect x="1023.59" y="645.26" width="10.73" height="10.73" fill="#fa0000"/>
<rect x="1034.33" y="645.26" width="10.73" height="10.73" fill="#ff5a00"/>
<rect x="1045.06" y="645.26" width="10.73" height="10.73" fill="#ff7500"/>
<rect x="1259.69" y="645.26" width="10.73" height="10.73" fill="#ff5a00"/>
<rect x="1270.42" y="645.26" width="10.73" height="10.73" fill="#ff8a00"/>
<rect x="1281.15" y="645.26" width="10.73" height="10.73" fill="#00ffff"/>
<rect x="1291.88" y="645.26" width="10.73" height="10.73" fill="#ff7500"/>
<rect x="1313.34" y="645.26" width="10.73" height="10.73" fill="#ff7500"/>
<rect x="1324.08" y="645.26" width="10.73" height="10.73" fill="#fa0000"/>
<rect x="1431.39" y="645.26" width="10.73" height="10.73" fill="#18d8ee"/>
<rect x="1442.12" y="645.26" width="10.73" height="10.73" fill="#33b2de"/>
<rect x="1452.85" y="645.26" width="10.73" height="10.73" fill="#18d8ee"/>
<rect x="1002.13" y="634.52" width="10.73" height="10.73" fill="#ff8a00"/>
<rect x="1012.86" y="634.52" width="21.46" height="10.73" fill="#fa0000"/>
<rect x="1034.33" y="634.52" width="10.73" height="10.73" fill="#ff5a00"/>
<rect x="1045.06" y="634.52" width="21.46" height="10.73" fill="#ff7500"/>
<rect x="1270.42" y="634.52" width="10.73" height="10.73" fill="#ff7500"/>
<rect x="1281.15" y="634.52" width="10.73" height="10.73" fill="#00ffff"/>
<rect x="1291.88" y="634.52" width="21.46" height="10.73" fill="#ff7500"/>
<rect x="1324.08" y="634.52" width="10.73" height="10.73" fill="#ff7500"/>
<rect x="1334.81" y="634.52" width="10.73" height="10.73" fill="#ff5a00"/>
<rect x="1409.93" y="634.52" width="10.73" height="10.73" fill="#4892d0"/>
<rect x="1420.66" y="634.52" width="32.19" height="10.73" fill="#33b2de"/>
<rect x="1452.85" y="634.52" width="10.73" height="10.73" fill="#00ffff"/>
<rect x="1023.59" y="623.79" width="10.73" height="10.73" fill="#ff3800"/>
<rect x="1034.33" y="623.79" width="21.46" height="10.73" fill="#ff8a00"/>
<rect x="1055.79" y="623.79" width="10.73" height="10.73" fill="#00ffff"/>
<rect x="1066.52" y="623.79" width="21.46" height="10.73" fill="#18d8ee"/>
<rect x="1302.61" y="623.79" width="10.73" height="10.73" fill="#fa0000"/>
<rect x="1313.34" y="623.79" width="10.73" height="10.73" fill="#ff7500"/>
<rect x="1334.81" y="623.79" width="10.73" height="10.73" fill="#ff7500"/>
<rect x="1345.54" y="623.79" width="10.73" height="10.73" fill="#ff5a00"/>
<rect x="1356.27" y="623.79" width="10.73" height="10.73" fill="#ff8a00"/>
<rect x="1409.93" y="623.79" width="10.73" height="10.73" fill="#4892d0"/>
<rect x="1420.66" y="623.79" width="10.73" height="10.73" fill="#33b2de"/>
<rect x="1431.39" y="623.79" width="21.46" height="10.73" fill="#18d8ee"/>
<rect x="1023.59" y="613.06" width="10.73" height="10.73" fill="#ff5a00"/>
<rect x="1034.33" y="613.06" width="10.73" height="10.73" fill="#ff8a00"/>
<rect x="1045.06" y="613.06" width="21.46" height="10.73" fill="#00ffff"/>
<rect x="1066.52" y="613.06" width="10.73" height="10.73" fill="#18d8ee"/>
<rect x="1313.34" y="613.06" width="10.73" height="10.73" fill="#ff5a00"/>
<rect x="1324.08" y="613.06" width="10.73" height="10.73" fill="#ff7500"/>
<rect x="1345.54" y="613.06" width="21.46" height="10.73" fill="#ff7500"/>
<rect x="1367.00" y="613.06" width="10.73" height="10.73" fill="#ffa400"/>
<rect x="1388.47" y="613.06" width="10.73" height="10.73" fill="#33b2de"/>
<rect x="1409.93" y="613.06" width="10.73" height="10.73" fill="#4892d0"/>
<rect x="1420.66" y="613.06" width="10.73" height="10.73" fill="#33b2de"/>
<rect x="1034.33" y="602.33" width="32.19" height="10.73" fill="#ff8a00"/>
<rect x="1324.08" y="602.33" width="10.73" height="10.73" fill="#ff5a00"/>
<rect x="1334.81" y="602.33" width="10.73" height="10.73" fill="#ff7500"/>
<rect x="1356.27" y="602.33" width="10.73" height="10.73" fill="#ff7500"/>
<rect x="1367.00" y="602.33" width="10.73" height="10.73" fill="#00ffff"/>
<rect x="1377.73" y="602.33" width="21.46" height="10.73" fill="#33b2de"/>
<rect x="1399.20" y="602.33" width="10.73" height="10.73" fill="#4892d0"/>
<rect x="1409.93" y="602.33" width="10.73" height="10.73" fill="#33b2de"/>
<rect x="1324.08" y="591.60" width="10.73" height="10.73" fill="#ff8a00"/>
<rect x="1334.81" y="591.60" width="21.46" height="10.73" fill="#ff7500"/>
<rect x="1367.00" y="591.60" width="10.73" height="10.73" fill="#ff7500"/>
<rect x="1377.73" y="591.60" width="10.73" height="10.73" fill="#18d8ee"/>
<rect x="1388.47" y="591.60" width="21.46" height="10.73" fill="#33b2de"/>
<rect x="1334.81" y="580.87" width="10.73" height="10.73" fill="#ffa400"/>
<rect x="1345.54" y="580.87" width="10.73" height="10.73" fill="#00ffff"/>
<rect x="1356.27" y="580.87" width="10.73" height="10.73" fill="#ff7500"/>
<rect x="1377.73" y="580.87" width="32.19" height="10.73" fill="#18d8ee"/>
<rect x="1345.54" y="570.13" width="10.73" height="10.73" fill="#33b2de"/>
<rect x="1356.27" y="570.13" width="21.46" height="10.73" fill="#18d8ee"/>
<rect x="1388.47" y="570.13" width="10.73" height="10.73" fill="#18d8ee"/>
<rect x="1399.20" y="570.13" width="10.73" height="10.73" fill="#ff7500"/>
<rect x="1334.81" y="559.40" width="32.19" height="10.73" fill="#33b2de"/>
<rect x="1367.00" y="559.40" width="21.46" height="10.73" fill="#18d8ee"/>
<rect x="1399.20" y="559.40" width="21.46" height="10.73" fill="#ff7500"/>
<rect x="1420.66" y="559.40" width="10.73" height="10.73" fill="#ffa400"/>
<rect x="1345.54" y="548.67" width="10.73" height="10.73" fill="#4892d0"/>
<rect x="1356.27" y="548.67" width="10.73" height="10.73" fill="#33b2de"/>
<rect x="1367.00" y="548.67" width="10.73" height="10.73" fill="#18d8ee"/>
<rect x="1377.73" y="548.67" width="21.46" height="10.73" fill="#ff7500"/>
<rect x="1409.93" y="548.67" width="10.73" height="10.73" fill="#ff7500"/>
<rect x="1420.66" y="548.67" width="10.73" height="10.73" fill="#ff8a00"/>
<rect x="1313.34" y="537.94" width="32.19" height="10.73" fill="#4892d0"/>
<rect x="1345.54" y="537.94" width="10.73" height="10.73" fill="#33b2de"/>
<rect x="1388.47" y="537.94" width="21.46" height="10.73" fill="#ff7500"/>
<rect x="1420.66" y="537.94" width="21.46" height="10.73" fill="#ff7500"/>
<rect x="1313.34" y="527.21" width="32.19" height="10.73" fill="#33b2de"/>
<rect x="1388.47" y="527.21" width="10.73" height="10.73" fill="#ffa400"/>
<rect x="1399.20" y="527.21" width="10.73" height="10.73" fill="#ff8a00"/>
<rect x="1409.93" y="527.21" width="10.73" height="10.73" fill="#ff7500"/>
<rect x="1431.39" y="527.21" width="10.73" height="10.73" fill="#ff7500"/>
<rect x="1442.12" y="527.21" width="10.73" height="10.73" fill="#ff5a00"/>
<rect x="1452.85" y="527.21" width="10.73" height="10.73" fill="#18d8ee"/>
<rect x="1281.15" y="516.48" width="10.73" height="10.73" fill="#33b2de"/>
<rect x="1291.88" y="516.48" width="21.46" height="10.73" fill="#18d8ee"/>
<rect x="1313.34" y="516.48" width="10.73" height="10.73" fill="#33b2de"/>
<rect x="1324.08" y="516.48" width="10.73" height="10.73" fill="#18d8ee"/>
<rect x="1409.93" y="516.48" width="21.46" height="10.73" fill="#ff7500"/>
<rect x="1442.12" y="516.48" width="10.73" height="10.73" fill="#ff7500"/>
<rect x="1452.85" y="516.48" width="21.46" height="10.73" fill="#18d8ee"/>
<rect x="1270.42" y="505.75" width="10.73" height="10.73" fill="#18d8ee"/>
<rect x="1281.15" y="505.75" width="10.73" height="10.73" fill="#33b2de"/>
<rect x="1291.88" y="505.75" width="10.73" height="10.73" fill="#18d8ee"/>
<rect x="1302.61" y="505.75" width="21.46" height="10.73" fill="#33b2de"/>
<rect x="1324.08" y="505.75" width="10.73" height="10.73" fill="#18d8ee"/>
<rect x="1420.66" y="505.75" width="10.73" height="10.73" fill="#ff5a00"/>
<rect x="1431.39" y="505.75" width="10.73" height="10.73" fill="#ff7500"/>
<rect x="1452.85" y="505.75" width="21.46" height="10.73" fill="#18d8ee"/>
<rect x="1474.32" y="505.75" width="10.73" height="10.73" fill="#ffa400"/>
<rect x="1270.42" y="495.01" width="10.73" height="10.73" fill="#00ffff"/>
<rect x="1281.15" y="495.01" width="10.73" height="10.73" fill="#18d8ee"/>
<rect x="1291.88" y="495.01" width="10.73" height="10.73" fill="#33b2de"/>
<rect x="1302.61" y="495.01" width="10.73" height="10.73" fill="#18d8ee"/>
<rect x="1313.34" y="495.01" width="10.73" height="10.73" fill="#00ffff"/>
<rect x="1420.66" y="495.01" width="32.19" height="10.73" fill="#18d8ee"/>
<rect x="1463.59" y="495.01" width="10.73" height="10.73" fill="#18d8ee"/>
<rect x="1474.32" y="495.01" width="10.73" height="10.73" fill="#00ffff"/>
<rect x="1270.42" y="484.28" width="10.73" height="10.73" fill="#ff7500"/>
<rect x="1281.15" y="484.28" width="10.73" height="10.73" fill="#18d8ee"/>
<rect x="1431.39" y="484.28" width="32.19" height="10.73" fill="#18d8ee"/>
<rect x="1474.32" y="484.28" width="10.73" height="10.73" fill="#ff7500"/>
<rect x="1485.05" y="484.28" width="10.73" height="10.73" fill="#ff5a00"/>
<rect x="1442.12" y="473.55" width="10.73" height="10.73" fill="#ffa400"/>
<rect x="1452.85" y="473.55" width="10.73" height="10.73" fill="#00ffff"/>
<rect x="1463.59" y="473.55" width="10.73" height="10.73" fill="#ff7500"/>
<rect x="1485.05" y="473.55" width="10.73" height="10.73" fill="#ff7500"/>
<rect x="1495.78" y="473.55" width="10.73" height="10.73" fill="#ff3800"/>
<rect x="1506.51" y="473.55" width="21.46" height="10.73" fill="#18d8ee"/>
<rect x="1463.59" y="462.82" width="10.73" height="10.73" fill="#ff5a00"/>
<rect x="1474.32" y="462.82" width="10.73" height="10.73" fill="#ff7500"/>
<rect x="1495.78" y="462.82" width="10.73" height="10.73" fill="#ff7500"/>
<rect x="1506.51" y="462.82" width="21.46" height="10.73" fill="#18d8ee"/>
<rect x="1527.97" y="462.82" width="10.73" height="10.73" fill="#ff7500"/>
<rect x="1474.32" y="452.09" width="10.73" height="10.73" fill="#ff3800"/>
<rect x="1485.05" y="452.09" width="10.73" height="10.73" fill="#ff7500"/>
<rect x="1506.51" y="452.09" width="10.73" height="10.73" fill="#ff7500"/>
<rect x="1517.24" y="452.09" width="10.73" height="10.73" fill="#18d8ee"/>
<rect x="1527.97" y="452.09" width="10.73" height="10.73" fill="#ff8a00"/>
<rect x="1538.71" y="452.09" width="10.73" height="10.73" fill="#ff5a00"/>
<rect x="1474.32" y="441.36" width="21.46" height="10.73" fill="#18d8ee"/>
<rect x="1495.78" y="441.36" width="10.73" height="10.73" fill="#ff7500"/>
<rect x="1517.24" y="441.36" width="10.73" height="10.73" fill="#18d8ee"/>
<rect x="1527.97" y="441.36" width="10.73" height="10.73" fill="#00ffff"/>
<rect x="1538.71" y="441.36" width="10.73" height="10.73" fill="#18d8ee"/>
<rect x="1474.32" y="430.63" width="42.93" height="10.73" fill="#18d8ee"/>
<rect x="1527.97" y="430.63" width="10.73" height="10.73" fill="#ff7500"/>
<rect x="1538.71" y="430.63" width="21.46" height="10.73" fill="#ffa400"/>
<rect x="1485.05" y="419.89" width="10.73" height="10.73" fill="#ff7500"/>
<rect x="1495.78" y="419.89" width="10.73" height="10.73" fill="#ff8a00"/>
<rect x="1506.51" y="419.89" width="10.73" height="10.73" fill="#00ffff"/>
<rect x="1517.24" y="419.89" width="10.73" height="10.73" fill="#ff7500"/>
<rect x="1538.71" y="419.89" width="10.73" height="10.73" fill="#ff7500"/>
<rect x="1549.44" y="419.89" width="10.73" height="10.73" fill="#00ffff"/>
<rect x="1560.17" y="419.89" width="10.73" height="10.73" fill="#ffa400"/>
<rect x="1495.78" y="409.16" width="10.73" height="10.73" fill="#ff5a00"/>
<rect x="1506.51" y="409.16" width="10.73" height="10.73" fill="#18d8ee"/>
<rect x="1517.24" y="409.16" width="10.73" height="10.73" fill="#ffa400"/>
<rect x="1527.97" y="409.16" width="10.73" height="10.73" fill="#ff7500"/>
<rect x="1549.44" y="409.16" width="10.73" height="10.73" fill="#ff7500"/>
<rect x="1560.17" y="409.16" width="10.73" height="10.73" fill="#18d8ee"/>
<rect x="1570.90" y="409.16" width="10.73" height="10.73" fill="#ffa400"/>
<rect x="1517.24" y="398.43" width="10.73" height="10.73" fill="#ffa400"/>
<rect x="1527.97" y="398.43" width="10.73" height="10.73" fill="#00ffff"/>
<rect x="1538.71" y="398.43" width="10.73" height="10.73" fill="#ff7500"/>
<rect x="1560.17" y="398.43" width="10.73" height="10.73" fill="#18d8ee"/>
<rect x="1570.90" y="398.43" width="21.46" height="10.73" fill="#ffa400"/>
<rect x="1087.98" y="387.70" width="10.73" height="10.73" fill="#ffa400"/>
<rect x="1527.97" y="387.70" width="10.73" height="10.73" fill="#ffa400"/>
<rect x="1538.71" y="387.70" width="21.46" height="10.73" fill="#18d8ee"/>
<rect x="1570.90" y="387.70" width="10.73" height="10.73" fill="#ff7500"/>
<rect x="1581.63" y="387.70" width="10.73" height="10.73" fill="#00ffff"/>
<rect x="1592.36" y="387.70" width="10.73" height="10.73" fill="#ffa400"/>
<rect x="1066.52" y="376.97" width="32.19" height="10.73" fill="#ff7500"/>
<rect x="1538.71" y="376.97" width="21.46" height="10.73" fill="#ffa400"/>
<rect x="1560.17" y="376.97" width="10.73" height="10.73" fill="#ff7500"/>
<rect x="1581.63" y="376.97" width="10.73" height="10.73" fill="#ff7500"/>
<rect x="1592.36" y="376.97" width="10.73" height="10.73" fill="#ff8a00"/>
<rect x="1603.10" y="376.97" width="10.73" height="10.73" fill="#ff5a00"/>
<rect x="1549.44" y="366.24" width="10.73" height="10.73" fill="#ffa400"/>
<rect x="1560.17" y="366.24" width="10.73" height="10.73" fill="#00ffff"/>
<rect x="1570.90" y="366.24" width="10.73" height="10.73" fill="#ff7500"/>
<rect x="1592.36" y="366.24" width="10.73" height="10.73" fill="#ff7500"/>
<rect x="1603.10" y="366.24" width="10.73" height="10.73" fill="#ff5a00"/>
<rect x="1613.83" y="366.24" width="10.73" height="10.73" fill="#ff7500"/>
<rect x="1560.17" y="355.50" width="10.73" height="10.73" fill="#ffa400"/>
<rect x="1570.90" y="355.50" width="10.73" height="10.73" fill="#ff8a00"/>
<rect x="1581.63" y="355.50" width="10.73" height="10.73" fill="#ff7500"/>
<rect x="1603.10" y="355.50" width="10.73" height="10.73" fill="#ff7500"/>
<rect x="1613.83" y="355.50" width="10.73" height="10.73" fill="#ff5a00"/>
<rect x="1570.90" y="344.77" width="21.46" height="10.73" fill="#ff5a00"/>
<rect x="1592.36" y="344.77" width="10.73" height="10.73" fill="#ff7500"/>
<rect x="1613.83" y="344.77" width="10.73" height="10.73" fill="#ff7500"/>
<rect x="1624.56" y="344.77" width="10.73" height="10.73" fill="#ff3800"/>
<rect x="1581.63" y="334.04" width="10.73" height="10.73" fill="#ff7500"/>
<rect x="1592.36" y="334.04" width="10.73" height="10.73" fill="#ff5a00"/>
<rect x="1603.10" y="334.04" width="10.73" height="10.73" fill="#ff7500"/>
<rect x="1624.56" y="334.04" width="10.73" height="10.73" fill="#ff7500"/>
<rect x="1635.29" y="334.04" width="10.73" height="10.73" fill="#ff3800"/>
<rect x="1603.10" y="323.31" width="10.73" height="10.73" fill="#ff3800"/>
<rect x="1613.83" y="323.31" width="10.73" height="10.73" fill="#ff7500"/>
<rect x="1635.29" y="323.31" width="10.73" height="10.73" fill="#ff7500"/>
<rect x="1646.02" y="323.31" width="10.73" height="10.73" fill="#ff3800"/>
<rect x="1613.83" y="312.58" width="10.73" height="10.73" fill="#ff3800"/>
<rect x="1624.56" y="312.58" width="10.73" height="10.73" fill="#ff7500"/>
<rect x="1646.02" y="312.58" width="10.73" height="10.73" fill="#ff7500"/>
<rect x="1656.75" y="312.58" width="10.73" height="10.73" fill="#ff3800"/>
<rect x="1624.56" y="301.85" width="10.73" height="10.73" fill="#ff3800"/>
<rect x="1635.29" y="301.85" width="10.73" height="10.73" fill="#ff7500"/>
<rect x="1656.75" y="301.85" width="10.73" height="10.73" fill="#ff7500"/>
<rect x="1667.48" y="301.85" width="10.73" height="10.73" fill="#ff5a00"/>
<rect x="1635.29" y="291.12" width="10.73" height="10.73" fill="#ff3800"/>
<rect x="1646.02" y="291.12" width="10.73" height="10.73" fill="#ff7500"/>
<rect x="1667.48" y="291.12" width="10.73" height="10.73" fill="#ff7500"/>
<rect x="1678.22" y="291.12" width="10.73" height="10.73" fill="#ff5a00"/>
<rect x="1688.95" y="291.12" width="10.73" height="10.73" fill="#ffa400"/>
<rect x="1646.02" y="280.38" width="10.73" height="10.73" fill="#ff5a00"/>
<rect x="1656.75" y="280.38" width="10.73" height="10.73" fill="#ff7500"/>
<rect x="1678.22" y="280.38" width="10.73" height="10.73" fill="#ff7500"/>
<rect x="1688.95" y="280.38" width="10.73" height="10.73" fill="#ff5a00"/>
<rect x="1699.68" y="280.38" width="10.73" height="10.73" fill="#18d8ee"/>
<rect x="1656.75" y="269.65" width="10.73" height="10.73" fill="#ff5a00"/>
<rect x="1667.48" y="269.65" width="10.73" height="10.73" fill="#ff7500"/>
<rect x="1688.95" y="269.65" width="10.73" height="10.73" fill="#ff7500"/>
<rect x="1699.68" y="269.65" width="21.46" height="10.73" fill="#00ffff"/>
<rect x="1656.75" y="258.92" width="10.73" height="10.73" fill="#ffa400"/>
<rect x="1667.48" y="258.92" width="10.73" height="10.73" fill="#ff5a00"/>
<rect x="1678.22" y="258.92" width="10.73" height="10.73" fill="#ff7500"/>
<rect x="1699.68" y="258.92" width="10.73" height="10.73" fill="#ff7500"/>
<rect x="1710.41" y="258.92" width="10.73" height="10.73" fill="#ff5a00"/>
<rect x="1721.14" y="258.92" width="10.73" height="10.73" fill="#ff3800"/>
<rect x="1667.48" y="248.19" width="10.73" height="10.73" fill="#18d8ee"/>
<rect x="1678.22" y="248.19" width="10.73" height="10.73" fill="#00ffff"/>
<rect x="1688.95" y="248.19" width="10.73" height="10.73" fill="#ff7500"/>
<rect x="1710.41" y="248.19" width="10.73" height="10.73" fill="#ff7500"/>
<rect x="1721.14" y="248.19" width="10.73" height="10.73" fill="#ff5a00"/>
<rect x="1731.87" y="248.19" width="10.73" height="10.73" fill="#ff3800"/>
<rect x="1678.22" y="237.46" width="10.73" height="10.73" fill="#00ffff"/>
<rect x="1688.95" y="237.46" width="10.73" height="10.73" fill="#ff5a00"/>
<rect x="1699.68" y="237.46" width="10.73" height="10.73" fill="#ff7500"/>
<rect x="1721.14" y="237.46" width="10.73" height="10.73" fill="#ff7500"/>
<rect x="1731.87" y="237.46" width="10.73" height="10.73" fill="#ff5a00"/>
<rect x="1742.60" y="237.46" width="10.73" height="10.73" fill="#ff3800"/>
<rect x="1688.95" y="226.73" width="10.73" height="10.73" fill="#ff3800"/>
<rect x="1699.68" y="226.73" width="10.73" height="10.73" fill="#ff5a00"/>
<rect x="1710.41" y="226.73" width="10.73" height="10.73" fill="#ff7500"/>
<rect x="1731.87" y="226.73" width="10.73" height="10.73" fill="#ff7500"/>
<rect x="1742.60" y="226.73" width="10.73" height="10.73" fill="#ff3800"/>
<rect x="1753.34" y="226.73" width="10.73" height="10.73" fill="#ff7500"/>
<rect x="1699.68" y="216.00" width="10.73" height="10.73" fill="#ff3800"/>
<rect x="1710.41" y="216.00" width="10.73" height="10.73" fill="#ff5a00"/>
<rect x="1721.14" y="216.00" width="10.73" height="10.73" fill="#ff7500"/>
<rect x="1742.60" y="216.00" width="10.73" height="10.73" fill="#ff7500"/>
<rect x="1753.34" y="216.00" width="10.73" height="10.73" fill="#ff5a00"/>
<rect x="1710.41" y="205.26" width="21.46" height="10.73" fill="#ff3800"/>
<rect x="1731.87" y="205.26" width="10.73" height="10.73" fill="#ff7500"/>
<rect x="1753.34" y="205.26" width="10.73" height="10.73" fill="#ff7500"/>
<rect x="1764.07" y="205.26" width="10.73" height="10.73" fill="#00ffff"/>
<rect x="1774.80" y="205.26" width="10.73" height="10.73" fill="#ff7500"/>
<rect x="1721.14" y="194.53" width="10.73" height="10.73" fill="#ff7500"/>
<rect x="1731.87" y="194.53" width="10.73" height="10.73" fill="#ff5a00"/>
<rect x="1742.60" y="194.53" width="10.73" height="10.73" fill="#ff7500"/>
<rect x="1764.07" y="194.53" width="10.73" height="10.73" fill="#ff7500"/>
<rect x="1774.80" y="194.53" width="10.73" height="10.73" fill="#ff5a00"/>
<rect x="1785.53" y="194.53" width="10.73" height="10.73" fill="#ff7500"/>
<rect x="1742.60" y="183.80" width="10.73" height="10.73" fill="#00ffff"/>
<rect x="1753.34" y="183.80" width="10.73" height="10.73" fill="#ff7500"/>
<rect x="1774.80" y="183.80" width="10.73" height="10.73" fill="#ff7500"/>
<rect x="1785.53" y="183.80" width="10.73" height="10.73" fill="#ff3800"/>
<rect x="1742.60" y="173.07" width="10.73" height="10.73" fill="#ff7500"/>
<rect x="1753.34" y="173.07" width="10.73" height="10.73" fill="#ff5a00"/>
<rect x="1764.07" y="173.07" width="10.73" height="10.73" fill="#ff7500"/>
<rect x="1785.53" y="173.07" width="10.73" height="10.73" fill="#ff7500"/>
<rect x="1796.26" y="173.07" width="10.73" height="10.73" fill="#ff3800"/>
<rect x="1753.34" y="162.34" width="10.73" height="10.73" fill="#ff7500"/>
<rect x="1764.07" y="162.34" width="10.73" height="10.73" fill="#ff3800"/>
<rect x="1774.80" y="162.34" width="10.73" height="10.73" fill="#ff7500"/>
<rect x="1796.26" y="162.34" width="10.73" height="10.73" fill="#ff7500"/>
<rect x="1806.99" y="162.34" width="10.73" height="10.73" fill="#ff3800"/>
<rect x="1774.80" y="151.61" width="10.73" height="10.73" fill="#ff3800"/>
<rect x="1785.53" y="151.61" width="10.73" height="10.73" fill="#ff7500"/>
<rect x="1806.99" y="151.61" width="10.73" height="10.73" fill="#ff7500"/>
<rect x="1817.73" y="151.61" width="10.73" height="10.73" fill="#ff5a00"/>
<rect x="1785.53" y="140.87" width="10.73" height="10.73" fill="#ff3800"/>
<rect x="1796.26" y="140.87" width="10.73" height="10.73" fill="#ff7500"/>
<rect x="1817.73" y="140.87" width="10.73" height="10.73" fill="#ff7500"/>
<rect x="1828.46" y="140.87" width="10.73" height="10.73" fill="#ffa400"/>
<rect x="1796.26" y="130.14" width="10.73" height="10.73" fill="#ff5a00"/>
<rect x="1806.99" y="130.14" width="10.73" height="10.73" fill="#ff7500"/>
<rect x="1828.46" y="130.14" width="10.73" height="10.73" fill="#ff7500"/>
<rect x="1806.99" y="119.41" width="10.73" height="10.73" fill="#ffa400"/>
<rect x="1817.73" y="119.41" width="10.73" height="10.73" fill="#ff7500"/>
</g>
<g shape-rendering="crispEdges">
<rect x="1861.90" y="1649.02" width="12.50" height="102.28" fill="#fa0000"/>
<rect x="1861.90" y="1547.04" width="12.50" height="102.28" fill="#ff1c00"/>
<rect x="1861.90" y="1445.06" width="12.50" height="102.28" fill="#ff3800"/>
<rect x="1861.90" y="1343.08" width="12.50" height="102.28" fill="#ff5a00"/>
<rect x="1861.90" y="1241.09" width="12.50" height="102.28" fill="#ff7500"/>
<rect x="1861.90" y="1139.11" width="12.50" height="102.28" fill="#ff8a00"/>
<rect x="1861.90" y="1037.13" width="12.50" height="102.28" fill="#ffa400"/>
<rect x="1861.90" y="935.15" width="12.50" height="102.28" fill="#00ffff"/>
<rect x="1861.90" y="833.17" width="12.50" height="102.28" fill="#14e2ec"/>
<rect x="1861.90" y="731.19" width="12.50" height="102.28" fill="#1fd0e6"/>
<rect x="1861.90" y="629.21" width="12.50" height="102.28" fill="#2ac2e2"/>
<rect x="1861.90" y="527.22" width="12.50" height="102.28" fill="#33b4dc"/>
<rect x="1861.90" y="425.24" width="12.50" height="102.28" fill="#3ba8d8"/>
<rect x="1861.90" y="323.26" width="12.50" height="102.28" fill="#4699d0"/>
<rect x="1861.90" y="221.28" width="12.50" height="102.28" fill="#5086c6"/>
<rect x="1861.90" y="119.30" width="12.50" height="102.28" fill="#ffffff"/>
</g>
<rect x="208.00" y="119.41" width="1631.19" height="1631.19" fill="none" stroke="#000" stroke-width="5.8" stroke-linejoin="round"/>
<rect x="1861.90" y="119.30" width="12.50" height="1631.70" fill="none" stroke="#000" stroke-width="5.8" stroke-linejoin="round"/>
<g stroke="#000" stroke-width="5.8" stroke-linecap="round">
<line x1="739.21" y1="1750.60" x2="739.21" y2="1756.10"/>
<line x1="739.21" y1="119.41" x2="739.21" y2="113.91"/>
<line x1="208.00" y1="1219.39" x2="202.00" y2="1219.39"/>
<line x1="1839.19" y1="1219.39" x2="1845.19" y2="1219.39"/>
<line x1="1275.78" y1="1750.60" x2="1275.78" y2="1756.10"/>
<line x1="1275.78" y1="119.41" x2="1275.78" y2="113.91"/>
<line x1="208.00" y1="682.82" x2="202.00" y2="682.82"/>
<line x1="1839.19" y1="682.82" x2="1845.19" y2="682.82"/>
<line x1="1812.36" y1="1750.60" x2="1812.36" y2="1756.10"/>
<line x1="1812.36" y1="119.41" x2="1812.36" y2="113.91"/>
<line x1="208.00" y1="146.24" x2="202.00" y2="146.24"/>
<line x1="1839.19" y1="146.24" x2="1845.19" y2="146.24"/>
<line x1="1874.40" y1="1689.81" x2="1878.60" y2="1689.81"/>
<line x1="1874.40" y1="1281.89" x2="1878.60" y2="1281.89"/>
<line x1="1874.40" y1="873.96" x2="1878.60" y2="873.96"/>
<line x1="1874.40" y1="466.04" x2="1878.60" y2="466.04"/>
</g>
<g fill="#000">
<text transform="translate(706.32,1806.10) scale(0.9580,1)" x="0" y="0" font-size="62.30" font-family="Liberation Sans, sans-serif" font-weight="bold">50</text>
<text transform="translate(131.06,1241.59) scale(0.9580,1)" x="0" y="0" font-size="62.30" font-family="Liberation Sans, sans-serif" font-weight="bold">50</text>
<text transform="translate(1225.84,1806.10) scale(0.9580,1)" x="0" y="0" font-size="62.30" font-family="Liberation Sans, sans-serif" font-weight="bold">100</text>
<text transform="translate(97.87,705.02) scale(0.9580,1)" x="0" y="0" font-size="62.30" font-family="Liberation Sans, sans-serif" font-weight="bold">100</text>
<text transform="translate(1882.90,1707.21) scale(0.9860,1)" x="0" y="0" font-size="49.20" font-family="Liberation Sans, sans-serif" font-weight="bold">0</text>
<text transform="translate(1882.90,1299.29) scale(0.9860,1)" x="0" y="0" font-size="49.20" font-family="Liberation Sans, sans-serif" font-weight="bold">50</text>
<text transform="translate(1882.90,891.36) scale(0.9860,1)" x="0" y="0" font-size="49.20" font-family="Liberation Sans, sans-serif" font-weight="bold">100</text>
<text transform="translate(1882.90,483.44) scale(0.9860,1)" x="0" y="0" font-size="49.20" font-family="Liberation Sans, sans-serif" font-weight="bold">150</text>
<text transform="translate(821.71,1862.40) scale(0.9300,1)" x="0" y="0" font-size="64.10" font-family="Liberation Sans, sans-serif" font-weight="bold">Residue index</text>
<text transform="translate(85.9,1136.39) rotate(-90) scale(0.9300,1)" x="0" y="0" font-size="64.10" font-family="Liberation Sans, sans-serif" font-weight="bold">Residue index</text>
</g>
</svg>
</body></html>
